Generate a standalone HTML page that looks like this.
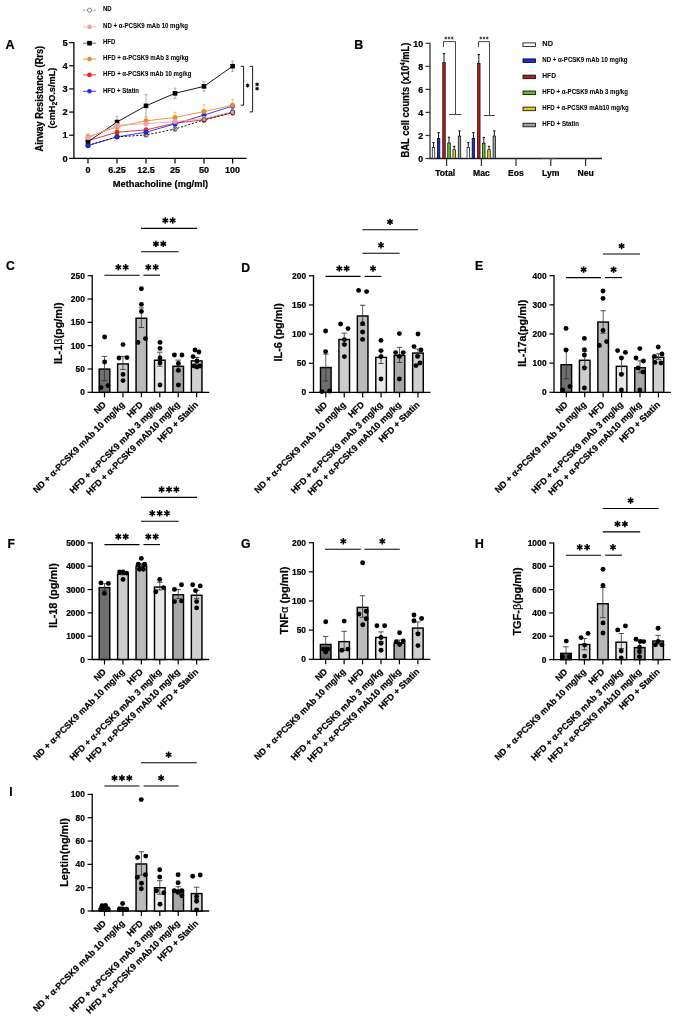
<!DOCTYPE html>
<html><head><meta charset="utf-8"><style>
html,body{margin:0;padding:0;background:#fff;}
svg{display:block;font-family:"Liberation Sans", sans-serif;will-change:transform;} text{stroke:#000;stroke-width:0.22px;}
</style></head><body>
<svg width="685" height="1017" viewBox="0 0 685 1017">
<rect width="685" height="1017" fill="#fff"/>
<text x="5.60" y="48.50" font-size="12.6" font-weight="bold" text-anchor="start" fill="#000">A</text>
<line x1="73.90" y1="42.00" x2="73.90" y2="159.00" stroke="#000" stroke-width="1.3"/>
<line x1="73.30" y1="158.40" x2="246.60" y2="158.40" stroke="#000" stroke-width="1.3"/>
<line x1="69.10" y1="158.40" x2="73.90" y2="158.40" stroke="#000" stroke-width="1.2"/>
<text x="67.60" y="161.60" font-size="9.3" font-weight="bold" text-anchor="end" fill="#000">0</text>
<line x1="69.10" y1="135.24" x2="73.90" y2="135.24" stroke="#000" stroke-width="1.2"/>
<text x="67.60" y="138.44" font-size="9.3" font-weight="bold" text-anchor="end" fill="#000">1</text>
<line x1="69.10" y1="112.08" x2="73.90" y2="112.08" stroke="#000" stroke-width="1.2"/>
<text x="67.60" y="115.28" font-size="9.3" font-weight="bold" text-anchor="end" fill="#000">2</text>
<line x1="69.10" y1="88.92" x2="73.90" y2="88.92" stroke="#000" stroke-width="1.2"/>
<text x="67.60" y="92.12" font-size="9.3" font-weight="bold" text-anchor="end" fill="#000">3</text>
<line x1="69.10" y1="65.76" x2="73.90" y2="65.76" stroke="#000" stroke-width="1.2"/>
<text x="67.60" y="68.96" font-size="9.3" font-weight="bold" text-anchor="end" fill="#000">4</text>
<line x1="69.10" y1="42.60" x2="73.90" y2="42.60" stroke="#000" stroke-width="1.2"/>
<text x="67.60" y="45.80" font-size="9.3" font-weight="bold" text-anchor="end" fill="#000">5</text>
<line x1="88.00" y1="158.40" x2="88.00" y2="163.40" stroke="#000" stroke-width="1.2"/>
<text x="88.00" y="173.40" font-size="9.0" font-weight="bold" text-anchor="middle" fill="#000">0</text>
<line x1="117.00" y1="158.40" x2="117.00" y2="163.40" stroke="#000" stroke-width="1.2"/>
<text x="117.00" y="173.40" font-size="9.0" font-weight="bold" text-anchor="middle" fill="#000">6.25</text>
<line x1="146.00" y1="158.40" x2="146.00" y2="163.40" stroke="#000" stroke-width="1.2"/>
<text x="146.00" y="173.40" font-size="9.0" font-weight="bold" text-anchor="middle" fill="#000">12.5</text>
<line x1="175.00" y1="158.40" x2="175.00" y2="163.40" stroke="#000" stroke-width="1.2"/>
<text x="175.00" y="173.40" font-size="9.0" font-weight="bold" text-anchor="middle" fill="#000">25</text>
<line x1="204.00" y1="158.40" x2="204.00" y2="163.40" stroke="#000" stroke-width="1.2"/>
<text x="204.00" y="173.40" font-size="9.0" font-weight="bold" text-anchor="middle" fill="#000">50</text>
<line x1="232.60" y1="158.40" x2="232.60" y2="163.40" stroke="#000" stroke-width="1.2"/>
<text x="232.60" y="173.40" font-size="9.0" font-weight="bold" text-anchor="middle" fill="#000">100</text>
<text x="160.40" y="187.30" font-size="9.5" font-weight="bold" text-anchor="middle" fill="#000" textLength="95.30" lengthAdjust="spacingAndGlyphs">Methacholine (mg/ml)</text>
<text x="43.40" y="98.70" font-size="10.0" font-weight="bold" text-anchor="middle" fill="#000" transform="rotate(-90 43.40 98.70)" textLength="105.60" lengthAdjust="spacingAndGlyphs">Airway Resistance (Rrs)</text>
<text x="55" y="98.1" font-size="9.6" font-weight="bold" text-anchor="middle" transform="rotate(-90 55 98.1)" textLength="60.8" lengthAdjust="spacingAndGlyphs">(cmH<tspan font-size="7" dy="2">2</tspan><tspan dy="-2">O.s/mL)</tspan></text>
<line x1="88.00" y1="144.04" x2="88.00" y2="146.36" stroke="#888" stroke-width="0.8"/>
<line x1="86.50" y1="144.04" x2="89.50" y2="144.04" stroke="#888" stroke-width="0.8"/>
<line x1="86.50" y1="146.36" x2="89.50" y2="146.36" stroke="#888" stroke-width="0.8"/>
<line x1="117.00" y1="135.70" x2="117.00" y2="138.02" stroke="#888" stroke-width="0.8"/>
<line x1="115.50" y1="135.70" x2="118.50" y2="135.70" stroke="#888" stroke-width="0.8"/>
<line x1="115.50" y1="138.02" x2="118.50" y2="138.02" stroke="#888" stroke-width="0.8"/>
<line x1="146.00" y1="133.62" x2="146.00" y2="136.40" stroke="#888" stroke-width="0.8"/>
<line x1="144.50" y1="133.62" x2="147.50" y2="133.62" stroke="#888" stroke-width="0.8"/>
<line x1="144.50" y1="136.40" x2="147.50" y2="136.40" stroke="#888" stroke-width="0.8"/>
<line x1="175.00" y1="127.13" x2="175.00" y2="130.84" stroke="#888" stroke-width="0.8"/>
<line x1="173.50" y1="127.13" x2="176.50" y2="127.13" stroke="#888" stroke-width="0.8"/>
<line x1="173.50" y1="130.84" x2="176.50" y2="130.84" stroke="#888" stroke-width="0.8"/>
<line x1="204.00" y1="117.64" x2="204.00" y2="122.27" stroke="#888" stroke-width="0.8"/>
<line x1="202.50" y1="117.64" x2="205.50" y2="117.64" stroke="#888" stroke-width="0.8"/>
<line x1="202.50" y1="122.27" x2="205.50" y2="122.27" stroke="#888" stroke-width="0.8"/>
<line x1="232.60" y1="109.53" x2="232.60" y2="115.09" stroke="#888" stroke-width="0.8"/>
<line x1="231.10" y1="109.53" x2="234.10" y2="109.53" stroke="#888" stroke-width="0.8"/>
<line x1="231.10" y1="115.09" x2="234.10" y2="115.09" stroke="#888" stroke-width="0.8"/>
<line x1="88.00" y1="134.31" x2="88.00" y2="141.26" stroke="#f0b8b8" stroke-width="0.8"/>
<line x1="86.50" y1="134.31" x2="89.50" y2="134.31" stroke="#f0b8b8" stroke-width="0.8"/>
<line x1="86.50" y1="141.26" x2="89.50" y2="141.26" stroke="#f0b8b8" stroke-width="0.8"/>
<line x1="117.00" y1="122.50" x2="117.00" y2="128.06" stroke="#f0b8b8" stroke-width="0.8"/>
<line x1="115.50" y1="122.50" x2="118.50" y2="122.50" stroke="#f0b8b8" stroke-width="0.8"/>
<line x1="115.50" y1="128.06" x2="118.50" y2="128.06" stroke="#f0b8b8" stroke-width="0.8"/>
<line x1="146.00" y1="119.03" x2="146.00" y2="128.29" stroke="#f0b8b8" stroke-width="0.8"/>
<line x1="144.50" y1="119.03" x2="147.50" y2="119.03" stroke="#f0b8b8" stroke-width="0.8"/>
<line x1="144.50" y1="128.29" x2="147.50" y2="128.29" stroke="#f0b8b8" stroke-width="0.8"/>
<line x1="175.00" y1="116.94" x2="175.00" y2="126.21" stroke="#f0b8b8" stroke-width="0.8"/>
<line x1="173.50" y1="116.94" x2="176.50" y2="116.94" stroke="#f0b8b8" stroke-width="0.8"/>
<line x1="173.50" y1="126.21" x2="176.50" y2="126.21" stroke="#f0b8b8" stroke-width="0.8"/>
<line x1="204.00" y1="115.79" x2="204.00" y2="121.34" stroke="#f0b8b8" stroke-width="0.8"/>
<line x1="202.50" y1="115.79" x2="205.50" y2="115.79" stroke="#f0b8b8" stroke-width="0.8"/>
<line x1="202.50" y1="121.34" x2="205.50" y2="121.34" stroke="#f0b8b8" stroke-width="0.8"/>
<line x1="232.60" y1="108.61" x2="232.60" y2="115.55" stroke="#f0b8b8" stroke-width="0.8"/>
<line x1="231.10" y1="108.61" x2="234.10" y2="108.61" stroke="#f0b8b8" stroke-width="0.8"/>
<line x1="231.10" y1="115.55" x2="234.10" y2="115.55" stroke="#f0b8b8" stroke-width="0.8"/>
<line x1="88.00" y1="138.95" x2="88.00" y2="144.50" stroke="#999" stroke-width="0.8"/>
<line x1="86.50" y1="138.95" x2="89.50" y2="138.95" stroke="#999" stroke-width="0.8"/>
<line x1="86.50" y1="144.50" x2="89.50" y2="144.50" stroke="#999" stroke-width="0.8"/>
<line x1="117.00" y1="116.25" x2="117.00" y2="127.83" stroke="#999" stroke-width="0.8"/>
<line x1="115.50" y1="116.25" x2="118.50" y2="116.25" stroke="#999" stroke-width="0.8"/>
<line x1="115.50" y1="127.83" x2="118.50" y2="127.83" stroke="#999" stroke-width="0.8"/>
<line x1="146.00" y1="94.71" x2="146.00" y2="116.94" stroke="#999" stroke-width="0.8"/>
<line x1="144.50" y1="94.71" x2="147.50" y2="94.71" stroke="#999" stroke-width="0.8"/>
<line x1="144.50" y1="116.94" x2="147.50" y2="116.94" stroke="#999" stroke-width="0.8"/>
<line x1="175.00" y1="88.23" x2="175.00" y2="98.42" stroke="#999" stroke-width="0.8"/>
<line x1="173.50" y1="88.23" x2="176.50" y2="88.23" stroke="#999" stroke-width="0.8"/>
<line x1="173.50" y1="98.42" x2="176.50" y2="98.42" stroke="#999" stroke-width="0.8"/>
<line x1="204.00" y1="81.74" x2="204.00" y2="91.00" stroke="#999" stroke-width="0.8"/>
<line x1="202.50" y1="81.74" x2="205.50" y2="81.74" stroke="#999" stroke-width="0.8"/>
<line x1="202.50" y1="91.00" x2="205.50" y2="91.00" stroke="#999" stroke-width="0.8"/>
<line x1="232.60" y1="61.13" x2="232.60" y2="71.32" stroke="#999" stroke-width="0.8"/>
<line x1="231.10" y1="61.13" x2="234.10" y2="61.13" stroke="#999" stroke-width="0.8"/>
<line x1="231.10" y1="71.32" x2="234.10" y2="71.32" stroke="#999" stroke-width="0.8"/>
<line x1="88.00" y1="134.08" x2="88.00" y2="139.64" stroke="#f4b27a" stroke-width="0.8"/>
<line x1="86.50" y1="134.08" x2="89.50" y2="134.08" stroke="#f4b27a" stroke-width="0.8"/>
<line x1="86.50" y1="139.64" x2="89.50" y2="139.64" stroke="#f4b27a" stroke-width="0.8"/>
<line x1="117.00" y1="124.59" x2="117.00" y2="129.22" stroke="#f4b27a" stroke-width="0.8"/>
<line x1="115.50" y1="124.59" x2="118.50" y2="124.59" stroke="#f4b27a" stroke-width="0.8"/>
<line x1="115.50" y1="129.22" x2="118.50" y2="129.22" stroke="#f4b27a" stroke-width="0.8"/>
<line x1="146.00" y1="118.10" x2="146.00" y2="123.66" stroke="#f4b27a" stroke-width="0.8"/>
<line x1="144.50" y1="118.10" x2="147.50" y2="118.10" stroke="#f4b27a" stroke-width="0.8"/>
<line x1="144.50" y1="123.66" x2="147.50" y2="123.66" stroke="#f4b27a" stroke-width="0.8"/>
<line x1="175.00" y1="112.31" x2="175.00" y2="122.50" stroke="#f4b27a" stroke-width="0.8"/>
<line x1="173.50" y1="112.31" x2="176.50" y2="112.31" stroke="#f4b27a" stroke-width="0.8"/>
<line x1="173.50" y1="122.50" x2="176.50" y2="122.50" stroke="#f4b27a" stroke-width="0.8"/>
<line x1="204.00" y1="104.67" x2="204.00" y2="118.56" stroke="#f4b27a" stroke-width="0.8"/>
<line x1="202.50" y1="104.67" x2="205.50" y2="104.67" stroke="#f4b27a" stroke-width="0.8"/>
<line x1="202.50" y1="118.56" x2="205.50" y2="118.56" stroke="#f4b27a" stroke-width="0.8"/>
<line x1="232.60" y1="99.34" x2="232.60" y2="110.92" stroke="#f4b27a" stroke-width="0.8"/>
<line x1="231.10" y1="99.34" x2="234.10" y2="99.34" stroke="#f4b27a" stroke-width="0.8"/>
<line x1="231.10" y1="110.92" x2="234.10" y2="110.92" stroke="#f4b27a" stroke-width="0.8"/>
<line x1="88.00" y1="139.41" x2="88.00" y2="142.19" stroke="#ee8a8a" stroke-width="0.8"/>
<line x1="86.50" y1="139.41" x2="89.50" y2="139.41" stroke="#ee8a8a" stroke-width="0.8"/>
<line x1="86.50" y1="142.19" x2="89.50" y2="142.19" stroke="#ee8a8a" stroke-width="0.8"/>
<line x1="117.00" y1="130.38" x2="117.00" y2="134.08" stroke="#ee8a8a" stroke-width="0.8"/>
<line x1="115.50" y1="130.38" x2="118.50" y2="130.38" stroke="#ee8a8a" stroke-width="0.8"/>
<line x1="115.50" y1="134.08" x2="118.50" y2="134.08" stroke="#ee8a8a" stroke-width="0.8"/>
<line x1="146.00" y1="127.60" x2="146.00" y2="132.23" stroke="#ee8a8a" stroke-width="0.8"/>
<line x1="144.50" y1="127.60" x2="147.50" y2="127.60" stroke="#ee8a8a" stroke-width="0.8"/>
<line x1="144.50" y1="132.23" x2="147.50" y2="132.23" stroke="#ee8a8a" stroke-width="0.8"/>
<line x1="175.00" y1="120.88" x2="175.00" y2="125.51" stroke="#ee8a8a" stroke-width="0.8"/>
<line x1="173.50" y1="120.88" x2="176.50" y2="120.88" stroke="#ee8a8a" stroke-width="0.8"/>
<line x1="173.50" y1="125.51" x2="176.50" y2="125.51" stroke="#ee8a8a" stroke-width="0.8"/>
<line x1="204.00" y1="117.41" x2="204.00" y2="122.04" stroke="#ee8a8a" stroke-width="0.8"/>
<line x1="202.50" y1="117.41" x2="205.50" y2="117.41" stroke="#ee8a8a" stroke-width="0.8"/>
<line x1="202.50" y1="122.04" x2="205.50" y2="122.04" stroke="#ee8a8a" stroke-width="0.8"/>
<line x1="232.60" y1="110.00" x2="232.60" y2="115.55" stroke="#ee8a8a" stroke-width="0.8"/>
<line x1="231.10" y1="110.00" x2="234.10" y2="110.00" stroke="#ee8a8a" stroke-width="0.8"/>
<line x1="231.10" y1="115.55" x2="234.10" y2="115.55" stroke="#ee8a8a" stroke-width="0.8"/>
<line x1="88.00" y1="144.74" x2="88.00" y2="146.59" stroke="#8890f0" stroke-width="0.8"/>
<line x1="86.50" y1="144.74" x2="89.50" y2="144.74" stroke="#8890f0" stroke-width="0.8"/>
<line x1="86.50" y1="146.59" x2="89.50" y2="146.59" stroke="#8890f0" stroke-width="0.8"/>
<line x1="117.00" y1="135.70" x2="117.00" y2="138.02" stroke="#8890f0" stroke-width="0.8"/>
<line x1="115.50" y1="135.70" x2="118.50" y2="135.70" stroke="#8890f0" stroke-width="0.8"/>
<line x1="115.50" y1="138.02" x2="118.50" y2="138.02" stroke="#8890f0" stroke-width="0.8"/>
<line x1="146.00" y1="130.84" x2="146.00" y2="133.62" stroke="#8890f0" stroke-width="0.8"/>
<line x1="144.50" y1="130.84" x2="147.50" y2="130.84" stroke="#8890f0" stroke-width="0.8"/>
<line x1="144.50" y1="133.62" x2="147.50" y2="133.62" stroke="#8890f0" stroke-width="0.8"/>
<line x1="175.00" y1="122.04" x2="175.00" y2="125.74" stroke="#8890f0" stroke-width="0.8"/>
<line x1="173.50" y1="122.04" x2="176.50" y2="122.04" stroke="#8890f0" stroke-width="0.8"/>
<line x1="173.50" y1="125.74" x2="176.50" y2="125.74" stroke="#8890f0" stroke-width="0.8"/>
<line x1="204.00" y1="112.77" x2="204.00" y2="117.41" stroke="#8890f0" stroke-width="0.8"/>
<line x1="202.50" y1="112.77" x2="205.50" y2="112.77" stroke="#8890f0" stroke-width="0.8"/>
<line x1="202.50" y1="117.41" x2="205.50" y2="117.41" stroke="#8890f0" stroke-width="0.8"/>
<line x1="232.60" y1="103.74" x2="232.60" y2="108.37" stroke="#8890f0" stroke-width="0.8"/>
<line x1="231.10" y1="103.74" x2="234.10" y2="103.74" stroke="#8890f0" stroke-width="0.8"/>
<line x1="231.10" y1="108.37" x2="234.10" y2="108.37" stroke="#8890f0" stroke-width="0.8"/>
<polyline points="88.00,140.80 117.00,132.23 146.00,129.91 175.00,123.20 204.00,119.72 232.60,112.77" fill="none" stroke="#e3262c" stroke-width="0.9"/>
<polyline points="88.00,141.72 117.00,122.04 146.00,105.83 175.00,93.32 204.00,86.37 232.60,66.22" fill="none" stroke="#000" stroke-width="0.9"/>
<polyline points="88.00,145.66 117.00,136.86 146.00,132.23 175.00,123.89 204.00,115.09 232.60,106.06" fill="none" stroke="#1f2ef0" stroke-width="0.9"/>
<polyline points="88.00,136.86 117.00,126.90 146.00,120.88 175.00,117.41 204.00,111.62 232.60,105.13" fill="none" stroke="#ee8a2c" stroke-width="0.9"/>
<polyline points="88.00,137.79 117.00,125.28 146.00,123.66 175.00,121.58 204.00,118.56 232.60,112.08" fill="none" stroke="#eba3a3" stroke-width="0.9"/>
<polyline points="88.00,145.20 117.00,136.86 146.00,135.01 175.00,128.99 204.00,119.95 232.60,112.31" fill="none" stroke="#000" stroke-width="0.9" stroke-dasharray="2.2 1.6"/>
<circle cx="88.00" cy="140.80" r="2.5" fill="#e3262c"/>
<circle cx="117.00" cy="132.23" r="2.5" fill="#e3262c"/>
<circle cx="146.00" cy="129.91" r="2.5" fill="#e3262c"/>
<circle cx="175.00" cy="123.20" r="2.5" fill="#e3262c"/>
<circle cx="204.00" cy="119.72" r="2.5" fill="#e3262c"/>
<circle cx="232.60" cy="112.77" r="2.5" fill="#e3262c"/>
<rect x="85.70" y="139.42" width="4.6" height="4.6" fill="#000"/>
<rect x="114.70" y="119.74" width="4.6" height="4.6" fill="#000"/>
<rect x="143.70" y="103.53" width="4.6" height="4.6" fill="#000"/>
<rect x="172.70" y="91.02" width="4.6" height="4.6" fill="#000"/>
<rect x="201.70" y="84.07" width="4.6" height="4.6" fill="#000"/>
<rect x="230.30" y="63.92" width="4.6" height="4.6" fill="#000"/>
<circle cx="88.00" cy="145.66" r="2.5" fill="#1f2ef0"/>
<circle cx="117.00" cy="136.86" r="2.5" fill="#1f2ef0"/>
<circle cx="146.00" cy="132.23" r="2.5" fill="#1f2ef0"/>
<circle cx="175.00" cy="123.89" r="2.5" fill="#1f2ef0"/>
<circle cx="204.00" cy="115.09" r="2.5" fill="#1f2ef0"/>
<circle cx="232.60" cy="106.06" r="2.5" fill="#1f2ef0"/>
<circle cx="88.00" cy="136.86" r="2.5" fill="#ee8a2c"/>
<circle cx="117.00" cy="126.90" r="2.5" fill="#ee8a2c"/>
<circle cx="146.00" cy="120.88" r="2.5" fill="#ee8a2c"/>
<circle cx="175.00" cy="117.41" r="2.5" fill="#ee8a2c"/>
<circle cx="204.00" cy="111.62" r="2.5" fill="#ee8a2c"/>
<circle cx="232.60" cy="105.13" r="2.5" fill="#ee8a2c"/>
<circle cx="88.00" cy="137.79" r="2.5" fill="#eba3a3"/>
<circle cx="117.00" cy="125.28" r="2.5" fill="#eba3a3"/>
<circle cx="146.00" cy="123.66" r="2.5" fill="#eba3a3"/>
<circle cx="175.00" cy="121.58" r="2.5" fill="#eba3a3"/>
<circle cx="204.00" cy="118.56" r="2.5" fill="#eba3a3"/>
<circle cx="232.60" cy="112.08" r="2.5" fill="#eba3a3"/>
<circle cx="88.00" cy="145.20" r="2.2" fill="none" stroke="#222" stroke-width="0.7"/>
<circle cx="117.00" cy="136.86" r="2.2" fill="none" stroke="#222" stroke-width="0.7"/>
<circle cx="146.00" cy="135.01" r="2.2" fill="none" stroke="#222" stroke-width="0.7"/>
<circle cx="175.00" cy="128.99" r="2.2" fill="none" stroke="#222" stroke-width="0.7"/>
<circle cx="204.00" cy="119.95" r="2.2" fill="none" stroke="#222" stroke-width="0.7"/>
<circle cx="232.60" cy="112.31" r="2.2" fill="none" stroke="#222" stroke-width="0.7"/>
<polyline points="240.70,66.30 243.60,66.30 243.60,105.20 240.70,105.20" fill="none" stroke="#000" stroke-width="0.9"/>
<polyline points="249.70,66.30 252.60,66.30 252.60,111.90 249.70,111.90" fill="none" stroke="#000" stroke-width="0.9"/>
<line x1="247.60" y1="83.60" x2="247.60" y2="87.40" stroke="#000" stroke-width="1.1"/>
<line x1="245.95" y1="84.55" x2="249.25" y2="86.45" stroke="#000" stroke-width="1.1"/>
<line x1="245.95" y1="86.45" x2="249.25" y2="84.55" stroke="#000" stroke-width="1.1"/>
<line x1="257.10" y1="82.50" x2="257.10" y2="86.30" stroke="#000" stroke-width="1.1"/>
<line x1="255.45" y1="83.45" x2="258.75" y2="85.35" stroke="#000" stroke-width="1.1"/>
<line x1="255.45" y1="85.35" x2="258.75" y2="83.45" stroke="#000" stroke-width="1.1"/>
<line x1="257.10" y1="86.70" x2="257.10" y2="90.50" stroke="#000" stroke-width="1.1"/>
<line x1="255.45" y1="87.65" x2="258.75" y2="89.55" stroke="#000" stroke-width="1.1"/>
<line x1="255.45" y1="89.55" x2="258.75" y2="87.65" stroke="#000" stroke-width="1.1"/>
<line x1="83.1" y1="10.20" x2="96" y2="10.20" stroke="#777" stroke-width="0.9" stroke-dasharray="2 1.5"/>
<circle cx="89.5" cy="10.20" r="2.1" fill="#fff" stroke="#555" stroke-width="0.7"/>
<text x="103.00" y="11.40" font-size="6.3" font-weight="bold" text-anchor="start" fill="#000" textLength="8.70" lengthAdjust="spacingAndGlyphs" style="stroke-width:0.05px">ND</text>
<line x1="83.1" y1="26.90" x2="96" y2="26.90" stroke="#f4b8b8" stroke-width="0.9"/>
<circle cx="89.5" cy="26.90" r="2.3" fill="#eba3a3"/>
<text x="103.00" y="28.10" font-size="6.3" font-weight="bold" text-anchor="start" fill="#000" textLength="85.00" lengthAdjust="spacingAndGlyphs" style="stroke-width:0.05px">ND + &#945;-PCSK9 mAb 10 mg/kg</text>
<line x1="83.1" y1="43.20" x2="96" y2="43.20" stroke="#555" stroke-width="0.9"/>
<rect x="87.20" y="40.90" width="4.6" height="4.6" fill="#000"/>
<text x="103.00" y="44.40" font-size="6.3" font-weight="bold" text-anchor="start" fill="#000" textLength="12.30" lengthAdjust="spacingAndGlyphs" style="stroke-width:0.05px">HFD</text>
<line x1="83.1" y1="59.10" x2="96" y2="59.10" stroke="#ee8a2c" stroke-width="0.9"/>
<circle cx="89.5" cy="59.10" r="2.3" fill="#ee8a2c"/>
<text x="103.00" y="60.30" font-size="6.3" font-weight="bold" text-anchor="start" fill="#000" textLength="85.60" lengthAdjust="spacingAndGlyphs" style="stroke-width:0.05px">HFD + &#945;-PCSK9 mAb 3 mg/kg</text>
<line x1="83.1" y1="74.90" x2="96" y2="74.90" stroke="#e3262c" stroke-width="0.9"/>
<circle cx="89.5" cy="74.90" r="2.3" fill="#e3262c"/>
<text x="103.00" y="76.10" font-size="6.3" font-weight="bold" text-anchor="start" fill="#000" textLength="88.40" lengthAdjust="spacingAndGlyphs" style="stroke-width:0.05px">HFD + &#945;-PCSK9 mAb 10 mg/kg</text>
<line x1="83.1" y1="91.30" x2="96" y2="91.30" stroke="#1f2ef0" stroke-width="0.9"/>
<circle cx="89.5" cy="91.30" r="2.3" fill="#1f2ef0"/>
<text x="103.00" y="92.50" font-size="6.3" font-weight="bold" text-anchor="start" fill="#000" textLength="36.00" lengthAdjust="spacingAndGlyphs" style="stroke-width:0.05px">HFD + Statin</text>
<text x="354.30" y="48.50" font-size="12.4" font-weight="bold" text-anchor="start" fill="#000">B</text>
<line x1="430.00" y1="42.70" x2="430.00" y2="159.10" stroke="#333" stroke-width="1.3"/>
<line x1="429.40" y1="158.50" x2="602.00" y2="158.50" stroke="#222" stroke-width="1.3"/>
<line x1="425.50" y1="158.50" x2="430.00" y2="158.50" stroke="#333" stroke-width="1.2"/>
<text x="423.20" y="161.70" font-size="8.9" font-weight="bold" text-anchor="end" fill="#000">0</text>
<line x1="425.50" y1="135.46" x2="430.00" y2="135.46" stroke="#333" stroke-width="1.2"/>
<text x="423.20" y="138.66" font-size="8.9" font-weight="bold" text-anchor="end" fill="#000">2</text>
<line x1="425.50" y1="112.42" x2="430.00" y2="112.42" stroke="#333" stroke-width="1.2"/>
<text x="423.20" y="115.62" font-size="8.9" font-weight="bold" text-anchor="end" fill="#000">4</text>
<line x1="425.50" y1="89.38" x2="430.00" y2="89.38" stroke="#333" stroke-width="1.2"/>
<text x="423.20" y="92.58" font-size="8.9" font-weight="bold" text-anchor="end" fill="#000">6</text>
<line x1="425.50" y1="66.34" x2="430.00" y2="66.34" stroke="#333" stroke-width="1.2"/>
<text x="423.20" y="69.54" font-size="8.9" font-weight="bold" text-anchor="end" fill="#000">8</text>
<line x1="425.50" y1="43.30" x2="430.00" y2="43.30" stroke="#333" stroke-width="1.2"/>
<text x="423.20" y="46.50" font-size="8.9" font-weight="bold" text-anchor="end" fill="#000">10</text>
<line x1="446.60" y1="158.50" x2="446.60" y2="166.00" stroke="#333" stroke-width="1.2"/>
<text x="445.20" y="176.20" font-size="8.6" font-weight="bold" text-anchor="middle" fill="#000">Total</text>
<line x1="481.40" y1="158.50" x2="481.40" y2="166.00" stroke="#333" stroke-width="1.2"/>
<text x="481.40" y="176.20" font-size="8.6" font-weight="bold" text-anchor="middle" fill="#000">Mac</text>
<line x1="516.00" y1="158.50" x2="516.00" y2="166.00" stroke="#333" stroke-width="1.2"/>
<text x="516.00" y="176.20" font-size="8.6" font-weight="bold" text-anchor="middle" fill="#000">Eos</text>
<line x1="550.80" y1="158.50" x2="550.80" y2="166.00" stroke="#333" stroke-width="1.2"/>
<text x="550.80" y="176.20" font-size="8.6" font-weight="bold" text-anchor="middle" fill="#000">Lym</text>
<line x1="585.60" y1="158.50" x2="585.60" y2="166.00" stroke="#333" stroke-width="1.2"/>
<text x="585.60" y="176.20" font-size="8.6" font-weight="bold" text-anchor="middle" fill="#000">Neu</text>
<text x="409" y="100" font-size="10.8" font-weight="bold" text-anchor="middle" transform="rotate(-90 409 100)" textLength="114.8" lengthAdjust="spacingAndGlyphs">BAL cell counts (x10<tspan font-size="6.5" dy="-4">4</tspan><tspan dy="4">/mL)</tspan></text>
<line x1="433.50" y1="142.60" x2="433.50" y2="147.44" stroke="#111" stroke-width="1.0"/>
<line x1="432.30" y1="142.60" x2="434.70" y2="142.60" stroke="#111" stroke-width="1.0"/>
<rect x="432.25" y="147.44" width="2.5" height="11.06" fill="#ffffff" stroke="#000" stroke-width="0.7"/>
<line x1="438.60" y1="132.58" x2="438.60" y2="138.57" stroke="#111" stroke-width="1.0"/>
<line x1="437.40" y1="132.58" x2="439.80" y2="132.58" stroke="#111" stroke-width="1.0"/>
<rect x="437.35" y="138.57" width="2.5" height="19.93" fill="#1a2fd6" stroke="#000" stroke-width="0.7"/>
<line x1="444.00" y1="53.67" x2="444.00" y2="62.54" stroke="#111" stroke-width="1.0"/>
<line x1="442.80" y1="53.67" x2="445.20" y2="53.67" stroke="#111" stroke-width="1.0"/>
<rect x="442.75" y="62.54" width="2.5" height="95.96" fill="#b3201f" stroke="#000" stroke-width="0.7"/>
<line x1="449.00" y1="137.19" x2="449.00" y2="142.95" stroke="#111" stroke-width="1.0"/>
<line x1="447.80" y1="137.19" x2="450.20" y2="137.19" stroke="#111" stroke-width="1.0"/>
<rect x="447.75" y="142.95" width="2.5" height="15.55" fill="#5fc02a" stroke="#000" stroke-width="0.7"/>
<line x1="454.20" y1="146.29" x2="454.20" y2="149.74" stroke="#111" stroke-width="1.0"/>
<line x1="453.00" y1="146.29" x2="455.40" y2="146.29" stroke="#111" stroke-width="1.0"/>
<rect x="452.95" y="149.74" width="2.5" height="8.76" fill="#dccf1e" stroke="#000" stroke-width="0.7"/>
<line x1="459.50" y1="130.85" x2="459.50" y2="136.04" stroke="#111" stroke-width="1.0"/>
<line x1="458.30" y1="130.85" x2="460.70" y2="130.85" stroke="#111" stroke-width="1.0"/>
<rect x="458.25" y="136.04" width="2.5" height="22.46" fill="#a0a0a0" stroke="#000" stroke-width="0.7"/>
<line x1="468.30" y1="142.60" x2="468.30" y2="147.44" stroke="#111" stroke-width="1.0"/>
<line x1="467.10" y1="142.60" x2="469.50" y2="142.60" stroke="#111" stroke-width="1.0"/>
<rect x="467.05" y="147.44" width="2.5" height="11.06" fill="#ffffff" stroke="#000" stroke-width="0.7"/>
<line x1="473.40" y1="132.58" x2="473.40" y2="138.57" stroke="#111" stroke-width="1.0"/>
<line x1="472.20" y1="132.58" x2="474.60" y2="132.58" stroke="#111" stroke-width="1.0"/>
<rect x="472.15" y="138.57" width="2.5" height="19.93" fill="#1a2fd6" stroke="#000" stroke-width="0.7"/>
<line x1="478.80" y1="54.59" x2="478.80" y2="63.46" stroke="#111" stroke-width="1.0"/>
<line x1="477.60" y1="54.59" x2="480.00" y2="54.59" stroke="#111" stroke-width="1.0"/>
<rect x="477.55" y="63.46" width="2.5" height="95.04" fill="#b3201f" stroke="#000" stroke-width="0.7"/>
<line x1="483.80" y1="137.42" x2="483.80" y2="143.18" stroke="#111" stroke-width="1.0"/>
<line x1="482.60" y1="137.42" x2="485.00" y2="137.42" stroke="#111" stroke-width="1.0"/>
<rect x="482.55" y="143.18" width="2.5" height="15.32" fill="#5fc02a" stroke="#000" stroke-width="0.7"/>
<line x1="489.00" y1="146.29" x2="489.00" y2="149.74" stroke="#111" stroke-width="1.0"/>
<line x1="487.80" y1="146.29" x2="490.20" y2="146.29" stroke="#111" stroke-width="1.0"/>
<rect x="487.75" y="149.74" width="2.5" height="8.76" fill="#dccf1e" stroke="#000" stroke-width="0.7"/>
<line x1="494.30" y1="130.85" x2="494.30" y2="136.04" stroke="#111" stroke-width="1.0"/>
<line x1="493.10" y1="130.85" x2="495.50" y2="130.85" stroke="#111" stroke-width="1.0"/>
<rect x="493.05" y="136.04" width="2.5" height="22.46" fill="#a0a0a0" stroke="#000" stroke-width="0.7"/>
<line x1="542" y1="158" x2="556" y2="158" stroke="#999" stroke-width="0.6"/>
<polyline points="443.50,47 443.50,41.6 455.50,41.6 455.50,114.50" fill="none" stroke="#333" stroke-width="0.9"/>
<line x1="449.00" y1="114.50" x2="461.40" y2="114.50" stroke="#333" stroke-width="0.9"/>
<line x1="445.80" y1="36.55" x2="445.80" y2="39.45" stroke="#000" stroke-width="0.6"/>
<line x1="444.54" y1="37.27" x2="447.06" y2="38.73" stroke="#000" stroke-width="0.6"/>
<line x1="444.54" y1="38.73" x2="447.06" y2="37.27" stroke="#000" stroke-width="0.6"/>
<line x1="449.00" y1="36.55" x2="449.00" y2="39.45" stroke="#000" stroke-width="0.6"/>
<line x1="447.74" y1="37.27" x2="450.26" y2="38.73" stroke="#000" stroke-width="0.6"/>
<line x1="447.74" y1="38.73" x2="450.26" y2="37.27" stroke="#000" stroke-width="0.6"/>
<line x1="452.20" y1="36.55" x2="452.20" y2="39.45" stroke="#000" stroke-width="0.6"/>
<line x1="450.94" y1="37.27" x2="453.46" y2="38.73" stroke="#000" stroke-width="0.6"/>
<line x1="450.94" y1="38.73" x2="453.46" y2="37.27" stroke="#000" stroke-width="0.6"/>
<polyline points="478.50,47 478.50,41.6 489.50,41.6 489.50,115.50" fill="none" stroke="#333" stroke-width="0.9"/>
<line x1="484.00" y1="115.50" x2="494.80" y2="115.50" stroke="#333" stroke-width="0.9"/>
<line x1="480.80" y1="36.55" x2="480.80" y2="39.45" stroke="#000" stroke-width="0.6"/>
<line x1="479.54" y1="37.27" x2="482.06" y2="38.73" stroke="#000" stroke-width="0.6"/>
<line x1="479.54" y1="38.73" x2="482.06" y2="37.27" stroke="#000" stroke-width="0.6"/>
<line x1="484.00" y1="36.55" x2="484.00" y2="39.45" stroke="#000" stroke-width="0.6"/>
<line x1="482.74" y1="37.27" x2="485.26" y2="38.73" stroke="#000" stroke-width="0.6"/>
<line x1="482.74" y1="38.73" x2="485.26" y2="37.27" stroke="#000" stroke-width="0.6"/>
<line x1="487.20" y1="36.55" x2="487.20" y2="39.45" stroke="#000" stroke-width="0.6"/>
<line x1="485.94" y1="37.27" x2="488.46" y2="38.73" stroke="#000" stroke-width="0.6"/>
<line x1="485.94" y1="38.73" x2="488.46" y2="37.27" stroke="#000" stroke-width="0.6"/>
<rect x="523" y="42.90" width="12.4" height="3.6" fill="#ffffff" stroke="#000" stroke-width="0.8"/>
<text x="542.30" y="45.50" font-size="6.3" font-weight="bold" text-anchor="start" fill="#000" textLength="10.70" lengthAdjust="spacingAndGlyphs" style="stroke-width:0.05px">ND</text>
<rect x="523" y="58.90" width="12.4" height="3.6" fill="#1a2fd6" stroke="#000" stroke-width="0.8"/>
<text x="542.30" y="61.50" font-size="6.3" font-weight="bold" text-anchor="start" fill="#000" textLength="85.20" lengthAdjust="spacingAndGlyphs" style="stroke-width:0.05px">ND + &#945;-PCSK9 mAb 10 mg/kg</text>
<rect x="523" y="75.10" width="12.4" height="3.6" fill="#b3201f" stroke="#000" stroke-width="0.8"/>
<text x="542.30" y="77.70" font-size="6.3" font-weight="bold" text-anchor="start" fill="#000" textLength="13.70" lengthAdjust="spacingAndGlyphs" style="stroke-width:0.05px">HFD</text>
<rect x="523" y="91.00" width="12.4" height="3.6" fill="#5fc02a" stroke="#000" stroke-width="0.8"/>
<text x="542.30" y="93.60" font-size="6.3" font-weight="bold" text-anchor="start" fill="#000" textLength="85.70" lengthAdjust="spacingAndGlyphs" style="stroke-width:0.05px">HFD + &#945;-PCSK9 mAb 3 mg/kg</text>
<rect x="523" y="107.10" width="12.4" height="3.6" fill="#dccf1e" stroke="#000" stroke-width="0.8"/>
<text x="542.30" y="109.70" font-size="6.3" font-weight="bold" text-anchor="start" fill="#000" textLength="86.50" lengthAdjust="spacingAndGlyphs" style="stroke-width:0.05px">HFD + &#945;-PCSK9 mAb10 mg/kg</text>
<rect x="523" y="123.20" width="12.4" height="3.6" fill="#a0a0a0" stroke="#000" stroke-width="0.8"/>
<text x="542.30" y="125.80" font-size="6.3" font-weight="bold" text-anchor="start" fill="#000" textLength="36.70" lengthAdjust="spacingAndGlyphs" style="stroke-width:0.05px">HFD + Statin</text>
<text x="6.00" y="270.00" font-size="12.2" font-weight="bold" text-anchor="start" fill="#000">C</text>
<line x1="92.20" y1="275.10" x2="92.20" y2="392.90" stroke="#000" stroke-width="1.3"/>
<line x1="91.60" y1="392.30" x2="209.20" y2="392.30" stroke="#000" stroke-width="1.3"/>
<line x1="87.60" y1="392.30" x2="92.20" y2="392.30" stroke="#000" stroke-width="1.2"/>
<text x="84.80" y="395.30" font-size="8.4" font-weight="bold" text-anchor="end" fill="#000">0</text>
<line x1="87.60" y1="368.98" x2="92.20" y2="368.98" stroke="#000" stroke-width="1.2"/>
<text x="84.80" y="371.98" font-size="8.4" font-weight="bold" text-anchor="end" fill="#000">50</text>
<line x1="87.60" y1="345.66" x2="92.20" y2="345.66" stroke="#000" stroke-width="1.2"/>
<text x="84.80" y="348.66" font-size="8.4" font-weight="bold" text-anchor="end" fill="#000">100</text>
<line x1="87.60" y1="322.34" x2="92.20" y2="322.34" stroke="#000" stroke-width="1.2"/>
<text x="84.80" y="325.34" font-size="8.4" font-weight="bold" text-anchor="end" fill="#000">150</text>
<line x1="87.60" y1="299.02" x2="92.20" y2="299.02" stroke="#000" stroke-width="1.2"/>
<text x="84.80" y="302.02" font-size="8.4" font-weight="bold" text-anchor="end" fill="#000">200</text>
<line x1="87.60" y1="275.70" x2="92.20" y2="275.70" stroke="#000" stroke-width="1.2"/>
<text x="84.80" y="278.70" font-size="8.4" font-weight="bold" text-anchor="end" fill="#000">250</text>
<line x1="104.50" y1="392.30" x2="104.50" y2="397.30" stroke="#000" stroke-width="1.2"/>
<line x1="122.93" y1="392.30" x2="122.93" y2="397.30" stroke="#000" stroke-width="1.2"/>
<line x1="141.36" y1="392.30" x2="141.36" y2="397.30" stroke="#000" stroke-width="1.2"/>
<line x1="159.79" y1="392.30" x2="159.79" y2="397.30" stroke="#000" stroke-width="1.2"/>
<line x1="178.22" y1="392.30" x2="178.22" y2="397.30" stroke="#000" stroke-width="1.2"/>
<line x1="196.65" y1="392.30" x2="196.65" y2="397.30" stroke="#000" stroke-width="1.2"/>
<rect x="99.20" y="369.06" width="10.6" height="23.24" fill="#6f6f6f" stroke="#000" stroke-width="1.45"/>
<rect x="117.63" y="363.93" width="10.6" height="28.37" fill="#cdcdcd" stroke="#000" stroke-width="1.45"/>
<rect x="136.06" y="318.23" width="10.6" height="74.07" fill="#bbbbbb" stroke="#000" stroke-width="1.45"/>
<rect x="154.49" y="360.20" width="10.6" height="32.10" fill="#e8e8e8" stroke="#000" stroke-width="1.45"/>
<rect x="172.92" y="366.27" width="10.6" height="26.03" fill="#a8a8a8" stroke="#000" stroke-width="1.45"/>
<rect x="191.35" y="360.85" width="10.6" height="31.45" fill="#d0d0d0" stroke="#000" stroke-width="1.45"/>
<line x1="104.50" y1="356.39" x2="104.50" y2="380.64" stroke="#333" stroke-width="0.8"/>
<line x1="101.80" y1="356.39" x2="107.20" y2="356.39" stroke="#333" stroke-width="0.85"/>
<line x1="101.80" y1="380.64" x2="107.20" y2="380.64" stroke="#333" stroke-width="0.85"/>
<line x1="122.93" y1="356.39" x2="122.93" y2="369.45" stroke="#333" stroke-width="0.8"/>
<line x1="120.23" y1="356.39" x2="125.63" y2="356.39" stroke="#333" stroke-width="0.85"/>
<line x1="120.23" y1="369.45" x2="125.63" y2="369.45" stroke="#333" stroke-width="0.85"/>
<line x1="141.36" y1="307.88" x2="141.36" y2="327.47" stroke="#333" stroke-width="0.8"/>
<line x1="138.66" y1="307.88" x2="144.06" y2="307.88" stroke="#333" stroke-width="0.85"/>
<line x1="138.66" y1="327.47" x2="144.06" y2="327.47" stroke="#333" stroke-width="0.85"/>
<line x1="159.79" y1="352.19" x2="159.79" y2="366.18" stroke="#333" stroke-width="0.8"/>
<line x1="157.09" y1="352.19" x2="162.49" y2="352.19" stroke="#333" stroke-width="0.85"/>
<line x1="157.09" y1="366.18" x2="162.49" y2="366.18" stroke="#333" stroke-width="0.85"/>
<line x1="178.22" y1="360.12" x2="178.22" y2="370.85" stroke="#333" stroke-width="0.8"/>
<line x1="175.52" y1="360.12" x2="180.92" y2="360.12" stroke="#333" stroke-width="0.85"/>
<line x1="175.52" y1="370.85" x2="180.92" y2="370.85" stroke="#333" stroke-width="0.85"/>
<line x1="196.65" y1="357.51" x2="196.65" y2="364.04" stroke="#333" stroke-width="0.8"/>
<line x1="193.95" y1="357.51" x2="199.35" y2="357.51" stroke="#333" stroke-width="0.85"/>
<line x1="193.95" y1="364.04" x2="199.35" y2="364.04" stroke="#333" stroke-width="0.85"/>
<circle cx="104.60" cy="337.00" r="2.45" fill="#000"/>
<circle cx="104.60" cy="362.00" r="2.45" fill="#000"/>
<circle cx="101.00" cy="387.60" r="2.45" fill="#000"/>
<circle cx="108.00" cy="385.60" r="2.45" fill="#000"/>
<circle cx="123.00" cy="344.60" r="2.45" fill="#000"/>
<circle cx="119.00" cy="358.00" r="2.45" fill="#000"/>
<circle cx="127.00" cy="357.60" r="2.45" fill="#000"/>
<circle cx="123.00" cy="374.40" r="2.45" fill="#000"/>
<circle cx="123.00" cy="380.60" r="2.45" fill="#000"/>
<circle cx="141.40" cy="288.80" r="2.45" fill="#000"/>
<circle cx="141.40" cy="304.40" r="2.45" fill="#000"/>
<circle cx="141.40" cy="311.40" r="2.45" fill="#000"/>
<circle cx="138.00" cy="342.40" r="2.45" fill="#000"/>
<circle cx="145.40" cy="338.60" r="2.45" fill="#000"/>
<circle cx="160.00" cy="342.40" r="2.45" fill="#000"/>
<circle cx="160.00" cy="348.40" r="2.45" fill="#000"/>
<circle cx="160.00" cy="358.00" r="2.45" fill="#000"/>
<circle cx="160.00" cy="363.00" r="2.45" fill="#000"/>
<circle cx="160.00" cy="385.00" r="2.45" fill="#000"/>
<circle cx="174.40" cy="355.00" r="2.45" fill="#000"/>
<circle cx="182.00" cy="355.00" r="2.45" fill="#000"/>
<circle cx="178.40" cy="363.40" r="2.45" fill="#000"/>
<circle cx="178.40" cy="370.40" r="2.45" fill="#000"/>
<circle cx="178.40" cy="385.00" r="2.45" fill="#000"/>
<circle cx="195.00" cy="350.00" r="2.45" fill="#000"/>
<circle cx="199.00" cy="352.00" r="2.45" fill="#000"/>
<circle cx="193.00" cy="356.60" r="2.45" fill="#000"/>
<circle cx="197.00" cy="361.00" r="2.45" fill="#000"/>
<circle cx="194.00" cy="366.00" r="2.45" fill="#000"/>
<circle cx="200.00" cy="366.00" r="2.45" fill="#000"/>
<circle cx="197.00" cy="367.00" r="2.45" fill="#000"/>
<line x1="104.40" y1="275.20" x2="139.60" y2="275.20" stroke="#000" stroke-width="1.1"/>
<line x1="118.30" y1="264.05" x2="118.30" y2="270.45" stroke="#000" stroke-width="1.6"/>
<line x1="115.53" y1="265.65" x2="121.07" y2="268.85" stroke="#000" stroke-width="1.6"/>
<line x1="115.53" y1="268.85" x2="121.07" y2="265.65" stroke="#000" stroke-width="1.6"/>
<line x1="125.70" y1="264.05" x2="125.70" y2="270.45" stroke="#000" stroke-width="1.6"/>
<line x1="122.93" y1="265.65" x2="128.47" y2="268.85" stroke="#000" stroke-width="1.6"/>
<line x1="122.93" y1="268.85" x2="128.47" y2="265.65" stroke="#000" stroke-width="1.6"/>
<line x1="143.40" y1="275.20" x2="160.00" y2="275.20" stroke="#000" stroke-width="1.1"/>
<line x1="148.30" y1="264.05" x2="148.30" y2="270.45" stroke="#000" stroke-width="1.6"/>
<line x1="145.53" y1="265.65" x2="151.07" y2="268.85" stroke="#000" stroke-width="1.6"/>
<line x1="145.53" y1="268.85" x2="151.07" y2="265.65" stroke="#000" stroke-width="1.6"/>
<line x1="155.70" y1="264.05" x2="155.70" y2="270.45" stroke="#000" stroke-width="1.6"/>
<line x1="152.93" y1="265.65" x2="158.47" y2="268.85" stroke="#000" stroke-width="1.6"/>
<line x1="152.93" y1="268.85" x2="158.47" y2="265.65" stroke="#000" stroke-width="1.6"/>
<line x1="141.00" y1="251.80" x2="178.60" y2="251.80" stroke="#000" stroke-width="1.1"/>
<line x1="155.90" y1="240.65" x2="155.90" y2="247.05" stroke="#000" stroke-width="1.6"/>
<line x1="153.13" y1="242.25" x2="158.67" y2="245.45" stroke="#000" stroke-width="1.6"/>
<line x1="153.13" y1="245.45" x2="158.67" y2="242.25" stroke="#000" stroke-width="1.6"/>
<line x1="163.30" y1="240.65" x2="163.30" y2="247.05" stroke="#000" stroke-width="1.6"/>
<line x1="160.53" y1="242.25" x2="166.07" y2="245.45" stroke="#000" stroke-width="1.6"/>
<line x1="160.53" y1="245.45" x2="166.07" y2="242.25" stroke="#000" stroke-width="1.6"/>
<line x1="141.00" y1="228.40" x2="197.00" y2="228.40" stroke="#000" stroke-width="1.1"/>
<line x1="165.30" y1="217.25" x2="165.30" y2="223.65" stroke="#000" stroke-width="1.6"/>
<line x1="162.53" y1="218.85" x2="168.07" y2="222.05" stroke="#000" stroke-width="1.6"/>
<line x1="162.53" y1="222.05" x2="168.07" y2="218.85" stroke="#000" stroke-width="1.6"/>
<line x1="172.70" y1="217.25" x2="172.70" y2="223.65" stroke="#000" stroke-width="1.6"/>
<line x1="169.93" y1="218.85" x2="175.47" y2="222.05" stroke="#000" stroke-width="1.6"/>
<line x1="169.93" y1="222.05" x2="175.47" y2="218.85" stroke="#000" stroke-width="1.6"/>
<text x="106.60" y="405.20" font-size="8.95" font-weight="bold" text-anchor="end" fill="#000" transform="rotate(-45 106.60 405.20)">ND</text>
<text x="125.03" y="405.20" font-size="8.95" font-weight="bold" text-anchor="end" fill="#000" transform="rotate(-45 125.03 405.20)">ND + &#945;-PCSK9 mAb 10 mg/kg</text>
<text x="143.46" y="405.20" font-size="8.95" font-weight="bold" text-anchor="end" fill="#000" transform="rotate(-45 143.46 405.20)">HFD</text>
<text x="161.89" y="405.20" font-size="8.95" font-weight="bold" text-anchor="end" fill="#000" transform="rotate(-45 161.89 405.20)">HFD + &#945;-PCSK9 mAb 3 mg/kg</text>
<text x="180.32" y="405.20" font-size="8.95" font-weight="bold" text-anchor="end" fill="#000" transform="rotate(-45 180.32 405.20)">HFD + &#945;-PCSK9 mAb10 mg/kg</text>
<text x="198.75" y="405.20" font-size="8.95" font-weight="bold" text-anchor="end" fill="#000" transform="rotate(-45 198.75 405.20)">HFD + Statin</text>
<text x="62.40" y="333.20" font-size="10.9" font-weight="bold" text-anchor="middle" fill="#000" transform="rotate(-90 62.40 333.20)" textLength="61.60" lengthAdjust="spacingAndGlyphs">IL-1<tspan font-weight="normal">&#946;</tspan>(pg/ml)</text>
<text x="241.20" y="272.40" font-size="12.2" font-weight="bold" text-anchor="start" fill="#000">D</text>
<line x1="313.50" y1="275.20" x2="313.50" y2="393.00" stroke="#000" stroke-width="1.3"/>
<line x1="312.90" y1="392.40" x2="430.50" y2="392.40" stroke="#000" stroke-width="1.3"/>
<line x1="308.90" y1="392.40" x2="313.50" y2="392.40" stroke="#000" stroke-width="1.2"/>
<text x="306.10" y="395.40" font-size="8.4" font-weight="bold" text-anchor="end" fill="#000">0</text>
<line x1="308.90" y1="363.25" x2="313.50" y2="363.25" stroke="#000" stroke-width="1.2"/>
<text x="306.10" y="366.25" font-size="8.4" font-weight="bold" text-anchor="end" fill="#000">50</text>
<line x1="308.90" y1="334.10" x2="313.50" y2="334.10" stroke="#000" stroke-width="1.2"/>
<text x="306.10" y="337.10" font-size="8.4" font-weight="bold" text-anchor="end" fill="#000">100</text>
<line x1="308.90" y1="304.95" x2="313.50" y2="304.95" stroke="#000" stroke-width="1.2"/>
<text x="306.10" y="307.95" font-size="8.4" font-weight="bold" text-anchor="end" fill="#000">150</text>
<line x1="308.90" y1="275.80" x2="313.50" y2="275.80" stroke="#000" stroke-width="1.2"/>
<text x="306.10" y="278.80" font-size="8.4" font-weight="bold" text-anchor="end" fill="#000">200</text>
<line x1="325.80" y1="392.40" x2="325.80" y2="397.40" stroke="#000" stroke-width="1.2"/>
<line x1="344.23" y1="392.40" x2="344.23" y2="397.40" stroke="#000" stroke-width="1.2"/>
<line x1="362.66" y1="392.40" x2="362.66" y2="397.40" stroke="#000" stroke-width="1.2"/>
<line x1="381.09" y1="392.40" x2="381.09" y2="397.40" stroke="#000" stroke-width="1.2"/>
<line x1="399.52" y1="392.40" x2="399.52" y2="397.40" stroke="#000" stroke-width="1.2"/>
<line x1="417.95" y1="392.40" x2="417.95" y2="397.40" stroke="#000" stroke-width="1.2"/>
<rect x="320.50" y="367.53" width="10.6" height="24.87" fill="#6f6f6f" stroke="#000" stroke-width="1.45"/>
<rect x="338.93" y="339.49" width="10.6" height="52.91" fill="#cdcdcd" stroke="#000" stroke-width="1.45"/>
<rect x="357.36" y="315.99" width="10.6" height="76.41" fill="#bbbbbb" stroke="#000" stroke-width="1.45"/>
<rect x="375.79" y="357.39" width="10.6" height="35.01" fill="#e8e8e8" stroke="#000" stroke-width="1.45"/>
<rect x="394.22" y="355.46" width="10.6" height="36.94" fill="#a8a8a8" stroke="#000" stroke-width="1.45"/>
<rect x="412.65" y="353.07" width="10.6" height="39.33" fill="#d0d0d0" stroke="#000" stroke-width="1.45"/>
<line x1="325.80" y1="354.16" x2="325.80" y2="380.97" stroke="#333" stroke-width="0.8"/>
<line x1="323.10" y1="354.16" x2="328.50" y2="354.16" stroke="#333" stroke-width="0.85"/>
<line x1="323.10" y1="380.97" x2="328.50" y2="380.97" stroke="#333" stroke-width="0.85"/>
<line x1="344.23" y1="333.11" x2="344.23" y2="343.60" stroke="#333" stroke-width="0.8"/>
<line x1="341.53" y1="333.11" x2="346.93" y2="333.11" stroke="#333" stroke-width="0.85"/>
<line x1="341.53" y1="343.60" x2="346.93" y2="343.60" stroke="#333" stroke-width="0.85"/>
<line x1="362.66" y1="305.24" x2="362.66" y2="325.35" stroke="#333" stroke-width="0.8"/>
<line x1="359.96" y1="305.24" x2="365.36" y2="305.24" stroke="#333" stroke-width="0.85"/>
<line x1="359.96" y1="325.35" x2="365.36" y2="325.35" stroke="#333" stroke-width="0.85"/>
<line x1="381.09" y1="351.01" x2="381.09" y2="363.54" stroke="#333" stroke-width="0.8"/>
<line x1="378.39" y1="351.01" x2="383.79" y2="351.01" stroke="#333" stroke-width="0.85"/>
<line x1="378.39" y1="363.54" x2="383.79" y2="363.54" stroke="#333" stroke-width="0.85"/>
<line x1="399.52" y1="347.33" x2="399.52" y2="362.49" stroke="#333" stroke-width="0.8"/>
<line x1="396.82" y1="347.33" x2="402.22" y2="347.33" stroke="#333" stroke-width="0.85"/>
<line x1="396.82" y1="362.49" x2="402.22" y2="362.49" stroke="#333" stroke-width="0.85"/>
<line x1="417.95" y1="349.02" x2="417.95" y2="355.44" stroke="#333" stroke-width="0.8"/>
<line x1="415.25" y1="349.02" x2="420.65" y2="349.02" stroke="#333" stroke-width="0.85"/>
<line x1="415.25" y1="355.44" x2="420.65" y2="355.44" stroke="#333" stroke-width="0.85"/>
<circle cx="325.60" cy="331.00" r="2.45" fill="#000"/>
<circle cx="325.60" cy="351.60" r="2.45" fill="#000"/>
<circle cx="322.00" cy="391.60" r="2.45" fill="#000"/>
<circle cx="329.60" cy="391.00" r="2.45" fill="#000"/>
<circle cx="340.60" cy="324.00" r="2.45" fill="#000"/>
<circle cx="348.00" cy="328.60" r="2.45" fill="#000"/>
<circle cx="344.40" cy="339.60" r="2.45" fill="#000"/>
<circle cx="344.40" cy="344.60" r="2.45" fill="#000"/>
<circle cx="344.40" cy="356.60" r="2.45" fill="#000"/>
<circle cx="358.60" cy="290.40" r="2.45" fill="#000"/>
<circle cx="366.60" cy="291.60" r="2.45" fill="#000"/>
<circle cx="362.60" cy="323.60" r="2.45" fill="#000"/>
<circle cx="362.60" cy="332.00" r="2.45" fill="#000"/>
<circle cx="362.60" cy="339.40" r="2.45" fill="#000"/>
<circle cx="381.00" cy="340.40" r="2.45" fill="#000"/>
<circle cx="381.00" cy="350.60" r="2.45" fill="#000"/>
<circle cx="381.00" cy="356.60" r="2.45" fill="#000"/>
<circle cx="381.00" cy="379.00" r="2.45" fill="#000"/>
<circle cx="399.40" cy="333.60" r="2.45" fill="#000"/>
<circle cx="395.60" cy="352.60" r="2.45" fill="#000"/>
<circle cx="403.20" cy="352.60" r="2.45" fill="#000"/>
<circle cx="399.40" cy="356.40" r="2.45" fill="#000"/>
<circle cx="399.40" cy="379.00" r="2.45" fill="#000"/>
<circle cx="418.00" cy="334.00" r="2.45" fill="#000"/>
<circle cx="414.00" cy="346.60" r="2.45" fill="#000"/>
<circle cx="421.00" cy="350.00" r="2.45" fill="#000"/>
<circle cx="417.60" cy="356.40" r="2.45" fill="#000"/>
<circle cx="416.00" cy="365.60" r="2.45" fill="#000"/>
<circle cx="420.00" cy="363.00" r="2.45" fill="#000"/>
<line x1="325.40" y1="276.40" x2="360.60" y2="276.40" stroke="#000" stroke-width="1.1"/>
<line x1="339.30" y1="265.25" x2="339.30" y2="271.65" stroke="#000" stroke-width="1.6"/>
<line x1="336.53" y1="266.85" x2="342.07" y2="270.05" stroke="#000" stroke-width="1.6"/>
<line x1="336.53" y1="270.05" x2="342.07" y2="266.85" stroke="#000" stroke-width="1.6"/>
<line x1="346.70" y1="265.25" x2="346.70" y2="271.65" stroke="#000" stroke-width="1.6"/>
<line x1="343.93" y1="266.85" x2="349.47" y2="270.05" stroke="#000" stroke-width="1.6"/>
<line x1="343.93" y1="270.05" x2="349.47" y2="266.85" stroke="#000" stroke-width="1.6"/>
<line x1="364.60" y1="276.40" x2="381.40" y2="276.40" stroke="#000" stroke-width="1.1"/>
<line x1="373.00" y1="265.25" x2="373.00" y2="271.65" stroke="#000" stroke-width="1.6"/>
<line x1="370.23" y1="266.85" x2="375.77" y2="270.05" stroke="#000" stroke-width="1.6"/>
<line x1="370.23" y1="270.05" x2="375.77" y2="266.85" stroke="#000" stroke-width="1.6"/>
<line x1="362.40" y1="253.20" x2="399.60" y2="253.20" stroke="#000" stroke-width="1.1"/>
<line x1="381.00" y1="242.05" x2="381.00" y2="248.45" stroke="#000" stroke-width="1.6"/>
<line x1="378.23" y1="243.65" x2="383.77" y2="246.85" stroke="#000" stroke-width="1.6"/>
<line x1="378.23" y1="246.85" x2="383.77" y2="243.65" stroke="#000" stroke-width="1.6"/>
<line x1="362.40" y1="229.80" x2="418.00" y2="229.80" stroke="#000" stroke-width="1.1"/>
<line x1="390.00" y1="218.65" x2="390.00" y2="225.05" stroke="#000" stroke-width="1.6"/>
<line x1="387.23" y1="220.25" x2="392.77" y2="223.45" stroke="#000" stroke-width="1.6"/>
<line x1="387.23" y1="223.45" x2="392.77" y2="220.25" stroke="#000" stroke-width="1.6"/>
<text x="327.90" y="405.30" font-size="8.95" font-weight="bold" text-anchor="end" fill="#000" transform="rotate(-45 327.90 405.30)">ND</text>
<text x="346.33" y="405.30" font-size="8.95" font-weight="bold" text-anchor="end" fill="#000" transform="rotate(-45 346.33 405.30)">ND + &#945;-PCSK9 mAb 10 mg/kg</text>
<text x="364.76" y="405.30" font-size="8.95" font-weight="bold" text-anchor="end" fill="#000" transform="rotate(-45 364.76 405.30)">HFD</text>
<text x="383.19" y="405.30" font-size="8.95" font-weight="bold" text-anchor="end" fill="#000" transform="rotate(-45 383.19 405.30)">HFD + &#945;-PCSK9 mAb 3 mg/kg</text>
<text x="401.62" y="405.30" font-size="8.95" font-weight="bold" text-anchor="end" fill="#000" transform="rotate(-45 401.62 405.30)">HFD + &#945;-PCSK9 mAb10 mg/kg</text>
<text x="420.05" y="405.30" font-size="8.95" font-weight="bold" text-anchor="end" fill="#000" transform="rotate(-45 420.05 405.30)">HFD + Statin</text>
<text x="282.40" y="332.20" font-size="10.9" font-weight="bold" text-anchor="middle" fill="#000" transform="rotate(-90 282.40 332.20)" textLength="58.40" lengthAdjust="spacingAndGlyphs">IL-6 (pg/ml)</text>
<text x="475.00" y="270.40" font-size="12.2" font-weight="bold" text-anchor="start" fill="#000">E</text>
<line x1="554.00" y1="275.10" x2="554.00" y2="392.90" stroke="#000" stroke-width="1.3"/>
<line x1="553.40" y1="392.30" x2="671.00" y2="392.30" stroke="#000" stroke-width="1.3"/>
<line x1="549.40" y1="392.30" x2="554.00" y2="392.30" stroke="#000" stroke-width="1.2"/>
<text x="546.60" y="395.30" font-size="8.4" font-weight="bold" text-anchor="end" fill="#000">0</text>
<line x1="549.40" y1="363.15" x2="554.00" y2="363.15" stroke="#000" stroke-width="1.2"/>
<text x="546.60" y="366.15" font-size="8.4" font-weight="bold" text-anchor="end" fill="#000">100</text>
<line x1="549.40" y1="334.00" x2="554.00" y2="334.00" stroke="#000" stroke-width="1.2"/>
<text x="546.60" y="337.00" font-size="8.4" font-weight="bold" text-anchor="end" fill="#000">200</text>
<line x1="549.40" y1="304.85" x2="554.00" y2="304.85" stroke="#000" stroke-width="1.2"/>
<text x="546.60" y="307.85" font-size="8.4" font-weight="bold" text-anchor="end" fill="#000">300</text>
<line x1="549.40" y1="275.70" x2="554.00" y2="275.70" stroke="#000" stroke-width="1.2"/>
<text x="546.60" y="278.70" font-size="8.4" font-weight="bold" text-anchor="end" fill="#000">400</text>
<line x1="566.30" y1="392.30" x2="566.30" y2="397.30" stroke="#000" stroke-width="1.2"/>
<line x1="584.73" y1="392.30" x2="584.73" y2="397.30" stroke="#000" stroke-width="1.2"/>
<line x1="603.16" y1="392.30" x2="603.16" y2="397.30" stroke="#000" stroke-width="1.2"/>
<line x1="621.59" y1="392.30" x2="621.59" y2="397.30" stroke="#000" stroke-width="1.2"/>
<line x1="640.02" y1="392.30" x2="640.02" y2="397.30" stroke="#000" stroke-width="1.2"/>
<line x1="658.45" y1="392.30" x2="658.45" y2="397.30" stroke="#000" stroke-width="1.2"/>
<rect x="561.00" y="364.72" width="10.6" height="27.58" fill="#6f6f6f" stroke="#000" stroke-width="1.45"/>
<rect x="579.43" y="360.29" width="10.6" height="32.01" fill="#cdcdcd" stroke="#000" stroke-width="1.45"/>
<rect x="597.86" y="322.07" width="10.6" height="70.23" fill="#bbbbbb" stroke="#000" stroke-width="1.45"/>
<rect x="616.29" y="366.32" width="10.6" height="25.98" fill="#e8e8e8" stroke="#000" stroke-width="1.45"/>
<rect x="634.72" y="367.78" width="10.6" height="24.52" fill="#a8a8a8" stroke="#000" stroke-width="1.45"/>
<rect x="653.15" y="357.29" width="10.6" height="35.01" fill="#d0d0d0" stroke="#000" stroke-width="1.45"/>
<line x1="566.30" y1="349.74" x2="566.30" y2="378.75" stroke="#333" stroke-width="0.8"/>
<line x1="563.60" y1="349.74" x2="569.00" y2="349.74" stroke="#333" stroke-width="0.85"/>
<line x1="563.60" y1="378.75" x2="569.00" y2="378.75" stroke="#333" stroke-width="0.85"/>
<line x1="584.73" y1="351.29" x2="584.73" y2="367.61" stroke="#333" stroke-width="0.8"/>
<line x1="582.03" y1="351.29" x2="587.43" y2="351.29" stroke="#333" stroke-width="0.85"/>
<line x1="582.03" y1="367.61" x2="587.43" y2="367.61" stroke="#333" stroke-width="0.85"/>
<line x1="603.16" y1="310.74" x2="603.16" y2="333.18" stroke="#333" stroke-width="0.8"/>
<line x1="600.46" y1="310.74" x2="605.86" y2="310.74" stroke="#333" stroke-width="0.85"/>
<line x1="600.46" y1="333.18" x2="605.86" y2="333.18" stroke="#333" stroke-width="0.85"/>
<line x1="621.59" y1="357.32" x2="621.59" y2="373.21" stroke="#333" stroke-width="0.8"/>
<line x1="618.89" y1="357.32" x2="624.29" y2="357.32" stroke="#333" stroke-width="0.85"/>
<line x1="618.89" y1="373.21" x2="624.29" y2="373.21" stroke="#333" stroke-width="0.85"/>
<line x1="640.02" y1="360.82" x2="640.02" y2="372.77" stroke="#333" stroke-width="0.8"/>
<line x1="637.32" y1="360.82" x2="642.72" y2="360.82" stroke="#333" stroke-width="0.85"/>
<line x1="637.32" y1="372.77" x2="642.72" y2="372.77" stroke="#333" stroke-width="0.85"/>
<line x1="658.45" y1="353.82" x2="658.45" y2="359.36" stroke="#333" stroke-width="0.8"/>
<line x1="655.75" y1="353.82" x2="661.15" y2="353.82" stroke="#333" stroke-width="0.85"/>
<line x1="655.75" y1="359.36" x2="661.15" y2="359.36" stroke="#333" stroke-width="0.85"/>
<circle cx="566.00" cy="328.40" r="2.45" fill="#000"/>
<circle cx="566.00" cy="350.00" r="2.45" fill="#000"/>
<circle cx="562.60" cy="390.00" r="2.45" fill="#000"/>
<circle cx="570.00" cy="386.40" r="2.45" fill="#000"/>
<circle cx="584.40" cy="338.40" r="2.45" fill="#000"/>
<circle cx="584.40" cy="349.60" r="2.45" fill="#000"/>
<circle cx="584.40" cy="355.00" r="2.45" fill="#000"/>
<circle cx="584.40" cy="368.00" r="2.45" fill="#000"/>
<circle cx="584.40" cy="388.00" r="2.45" fill="#000"/>
<circle cx="603.00" cy="291.00" r="2.45" fill="#000"/>
<circle cx="603.00" cy="298.40" r="2.45" fill="#000"/>
<circle cx="603.00" cy="330.40" r="2.45" fill="#000"/>
<circle cx="599.40" cy="345.40" r="2.45" fill="#000"/>
<circle cx="606.60" cy="341.60" r="2.45" fill="#000"/>
<circle cx="617.60" cy="350.60" r="2.45" fill="#000"/>
<circle cx="625.40" cy="352.40" r="2.45" fill="#000"/>
<circle cx="621.40" cy="358.00" r="2.45" fill="#000"/>
<circle cx="621.40" cy="374.40" r="2.45" fill="#000"/>
<circle cx="621.40" cy="390.00" r="2.45" fill="#000"/>
<circle cx="639.80" cy="348.60" r="2.45" fill="#000"/>
<circle cx="636.00" cy="358.00" r="2.45" fill="#000"/>
<circle cx="643.40" cy="361.00" r="2.45" fill="#000"/>
<circle cx="638.00" cy="368.00" r="2.45" fill="#000"/>
<circle cx="643.00" cy="372.00" r="2.45" fill="#000"/>
<circle cx="639.80" cy="390.00" r="2.45" fill="#000"/>
<circle cx="658.20" cy="347.00" r="2.45" fill="#000"/>
<circle cx="654.40" cy="356.40" r="2.45" fill="#000"/>
<circle cx="662.00" cy="354.00" r="2.45" fill="#000"/>
<circle cx="655.00" cy="362.40" r="2.45" fill="#000"/>
<circle cx="661.00" cy="363.00" r="2.45" fill="#000"/>
<line x1="566.00" y1="277.60" x2="601.00" y2="277.60" stroke="#000" stroke-width="1.1"/>
<line x1="583.60" y1="266.45" x2="583.60" y2="272.85" stroke="#000" stroke-width="1.6"/>
<line x1="580.83" y1="268.05" x2="586.37" y2="271.25" stroke="#000" stroke-width="1.6"/>
<line x1="580.83" y1="271.25" x2="586.37" y2="268.05" stroke="#000" stroke-width="1.6"/>
<line x1="605.00" y1="277.60" x2="622.00" y2="277.60" stroke="#000" stroke-width="1.1"/>
<line x1="613.60" y1="266.45" x2="613.60" y2="272.85" stroke="#000" stroke-width="1.6"/>
<line x1="610.83" y1="268.05" x2="616.37" y2="271.25" stroke="#000" stroke-width="1.6"/>
<line x1="610.83" y1="271.25" x2="616.37" y2="268.05" stroke="#000" stroke-width="1.6"/>
<line x1="603.00" y1="254.00" x2="640.00" y2="254.00" stroke="#000" stroke-width="1.1"/>
<line x1="621.60" y1="242.85" x2="621.60" y2="249.25" stroke="#000" stroke-width="1.6"/>
<line x1="618.83" y1="244.45" x2="624.37" y2="247.65" stroke="#000" stroke-width="1.6"/>
<line x1="618.83" y1="247.65" x2="624.37" y2="244.45" stroke="#000" stroke-width="1.6"/>
<text x="568.40" y="405.20" font-size="8.95" font-weight="bold" text-anchor="end" fill="#000" transform="rotate(-45 568.40 405.20)">ND</text>
<text x="586.83" y="405.20" font-size="8.95" font-weight="bold" text-anchor="end" fill="#000" transform="rotate(-45 586.83 405.20)">ND + &#945;-PCSK9 mAb 10 mg/kg</text>
<text x="605.26" y="405.20" font-size="8.95" font-weight="bold" text-anchor="end" fill="#000" transform="rotate(-45 605.26 405.20)">HFD</text>
<text x="623.69" y="405.20" font-size="8.95" font-weight="bold" text-anchor="end" fill="#000" transform="rotate(-45 623.69 405.20)">HFD + &#945;-PCSK9 mAb 3 mg/kg</text>
<text x="642.12" y="405.20" font-size="8.95" font-weight="bold" text-anchor="end" fill="#000" transform="rotate(-45 642.12 405.20)">HFD + &#945;-PCSK9 mAb10 mg/kg</text>
<text x="660.55" y="405.20" font-size="8.95" font-weight="bold" text-anchor="end" fill="#000" transform="rotate(-45 660.55 405.20)">HFD + Statin</text>
<text x="526.00" y="333.20" font-size="10.9" font-weight="bold" text-anchor="middle" fill="#000" transform="rotate(-90 526.00 333.20)" textLength="67.10" lengthAdjust="spacingAndGlyphs">IL-17a(pg/ml)</text>
<text x="7.60" y="548.00" font-size="12.2" font-weight="bold" text-anchor="start" fill="#000">F</text>
<line x1="92.20" y1="542.30" x2="92.20" y2="660.10" stroke="#000" stroke-width="1.3"/>
<line x1="91.60" y1="659.50" x2="209.20" y2="659.50" stroke="#000" stroke-width="1.3"/>
<line x1="87.60" y1="659.50" x2="92.20" y2="659.50" stroke="#000" stroke-width="1.2"/>
<text x="84.80" y="662.50" font-size="8.4" font-weight="bold" text-anchor="end" fill="#000">0</text>
<line x1="87.60" y1="636.18" x2="92.20" y2="636.18" stroke="#000" stroke-width="1.2"/>
<text x="84.80" y="639.18" font-size="8.4" font-weight="bold" text-anchor="end" fill="#000">1000</text>
<line x1="87.60" y1="612.86" x2="92.20" y2="612.86" stroke="#000" stroke-width="1.2"/>
<text x="84.80" y="615.86" font-size="8.4" font-weight="bold" text-anchor="end" fill="#000">2000</text>
<line x1="87.60" y1="589.54" x2="92.20" y2="589.54" stroke="#000" stroke-width="1.2"/>
<text x="84.80" y="592.54" font-size="8.4" font-weight="bold" text-anchor="end" fill="#000">3000</text>
<line x1="87.60" y1="566.22" x2="92.20" y2="566.22" stroke="#000" stroke-width="1.2"/>
<text x="84.80" y="569.22" font-size="8.4" font-weight="bold" text-anchor="end" fill="#000">4000</text>
<line x1="87.60" y1="542.90" x2="92.20" y2="542.90" stroke="#000" stroke-width="1.2"/>
<text x="84.80" y="545.90" font-size="8.4" font-weight="bold" text-anchor="end" fill="#000">5000</text>
<line x1="104.50" y1="659.50" x2="104.50" y2="664.50" stroke="#000" stroke-width="1.2"/>
<line x1="122.93" y1="659.50" x2="122.93" y2="664.50" stroke="#000" stroke-width="1.2"/>
<line x1="141.36" y1="659.50" x2="141.36" y2="664.50" stroke="#000" stroke-width="1.2"/>
<line x1="159.79" y1="659.50" x2="159.79" y2="664.50" stroke="#000" stroke-width="1.2"/>
<line x1="178.22" y1="659.50" x2="178.22" y2="664.50" stroke="#000" stroke-width="1.2"/>
<line x1="196.65" y1="659.50" x2="196.65" y2="664.50" stroke="#000" stroke-width="1.2"/>
<rect x="99.20" y="587.57" width="10.6" height="71.93" fill="#6f6f6f" stroke="#000" stroke-width="1.45"/>
<rect x="117.63" y="574.21" width="10.6" height="85.29" fill="#cdcdcd" stroke="#000" stroke-width="1.45"/>
<rect x="136.06" y="566.12" width="10.6" height="93.38" fill="#bbbbbb" stroke="#000" stroke-width="1.45"/>
<rect x="154.49" y="587.08" width="10.6" height="72.42" fill="#e8e8e8" stroke="#000" stroke-width="1.45"/>
<rect x="172.92" y="594.75" width="10.6" height="64.75" fill="#a8a8a8" stroke="#000" stroke-width="1.45"/>
<rect x="191.35" y="595.27" width="10.6" height="64.23" fill="#d0d0d0" stroke="#000" stroke-width="1.45"/>
<line x1="104.50" y1="583.71" x2="104.50" y2="590.52" stroke="#333" stroke-width="0.8"/>
<line x1="101.80" y1="583.71" x2="107.20" y2="583.71" stroke="#333" stroke-width="0.85"/>
<line x1="101.80" y1="590.52" x2="107.20" y2="590.52" stroke="#333" stroke-width="0.85"/>
<line x1="122.93" y1="572.49" x2="122.93" y2="574.83" stroke="#333" stroke-width="0.8"/>
<line x1="120.23" y1="572.49" x2="125.63" y2="572.49" stroke="#333" stroke-width="0.85"/>
<line x1="120.23" y1="574.83" x2="125.63" y2="574.83" stroke="#333" stroke-width="0.85"/>
<line x1="141.36" y1="563.70" x2="141.36" y2="567.43" stroke="#333" stroke-width="0.8"/>
<line x1="138.66" y1="563.70" x2="144.06" y2="563.70" stroke="#333" stroke-width="0.85"/>
<line x1="138.66" y1="567.43" x2="144.06" y2="567.43" stroke="#333" stroke-width="0.85"/>
<line x1="159.79" y1="582.33" x2="159.79" y2="590.01" stroke="#333" stroke-width="0.8"/>
<line x1="157.09" y1="582.33" x2="162.49" y2="582.33" stroke="#333" stroke-width="0.85"/>
<line x1="157.09" y1="590.01" x2="162.49" y2="590.01" stroke="#333" stroke-width="0.85"/>
<line x1="178.22" y1="589.54" x2="178.22" y2="598.61" stroke="#333" stroke-width="0.8"/>
<line x1="175.52" y1="589.54" x2="180.92" y2="589.54" stroke="#333" stroke-width="0.85"/>
<line x1="175.52" y1="598.61" x2="180.92" y2="598.61" stroke="#333" stroke-width="0.85"/>
<line x1="196.65" y1="590.52" x2="196.65" y2="598.61" stroke="#333" stroke-width="0.8"/>
<line x1="193.95" y1="590.52" x2="199.35" y2="590.52" stroke="#333" stroke-width="0.85"/>
<line x1="193.95" y1="598.61" x2="199.35" y2="598.61" stroke="#333" stroke-width="0.85"/>
<circle cx="100.90" cy="582.90" r="2.45" fill="#000"/>
<circle cx="108.40" cy="583.40" r="2.45" fill="#000"/>
<circle cx="104.40" cy="593.40" r="2.45" fill="#000"/>
<circle cx="119.60" cy="571.90" r="2.45" fill="#000"/>
<circle cx="123.00" cy="571.90" r="2.45" fill="#000"/>
<circle cx="126.60" cy="573.10" r="2.45" fill="#000"/>
<circle cx="123.00" cy="579.40" r="2.45" fill="#000"/>
<circle cx="141.30" cy="558.40" r="2.45" fill="#000"/>
<circle cx="138.30" cy="564.20" r="2.45" fill="#000"/>
<circle cx="144.60" cy="564.20" r="2.45" fill="#000"/>
<circle cx="139.40" cy="569.30" r="2.45" fill="#000"/>
<circle cx="143.40" cy="569.30" r="2.45" fill="#000"/>
<circle cx="159.70" cy="579.40" r="2.45" fill="#000"/>
<circle cx="155.80" cy="591.80" r="2.45" fill="#000"/>
<circle cx="163.50" cy="587.60" r="2.45" fill="#000"/>
<circle cx="181.50" cy="584.80" r="2.45" fill="#000"/>
<circle cx="174.50" cy="589.40" r="2.45" fill="#000"/>
<circle cx="174.50" cy="601.60" r="2.45" fill="#000"/>
<circle cx="181.50" cy="600.90" r="2.45" fill="#000"/>
<circle cx="192.70" cy="584.80" r="2.45" fill="#000"/>
<circle cx="200.20" cy="585.90" r="2.45" fill="#000"/>
<circle cx="195.50" cy="590.60" r="2.45" fill="#000"/>
<circle cx="196.60" cy="601.60" r="2.45" fill="#000"/>
<circle cx="196.60" cy="607.90" r="2.45" fill="#000"/>
<line x1="104.40" y1="544.60" x2="139.60" y2="544.60" stroke="#000" stroke-width="1.1"/>
<line x1="118.30" y1="533.45" x2="118.30" y2="539.85" stroke="#000" stroke-width="1.6"/>
<line x1="115.53" y1="535.05" x2="121.07" y2="538.25" stroke="#000" stroke-width="1.6"/>
<line x1="115.53" y1="538.25" x2="121.07" y2="535.05" stroke="#000" stroke-width="1.6"/>
<line x1="125.70" y1="533.45" x2="125.70" y2="539.85" stroke="#000" stroke-width="1.6"/>
<line x1="122.93" y1="535.05" x2="128.47" y2="538.25" stroke="#000" stroke-width="1.6"/>
<line x1="122.93" y1="538.25" x2="128.47" y2="535.05" stroke="#000" stroke-width="1.6"/>
<line x1="143.40" y1="544.60" x2="160.00" y2="544.60" stroke="#000" stroke-width="1.1"/>
<line x1="148.30" y1="533.45" x2="148.30" y2="539.85" stroke="#000" stroke-width="1.6"/>
<line x1="145.53" y1="535.05" x2="151.07" y2="538.25" stroke="#000" stroke-width="1.6"/>
<line x1="145.53" y1="538.25" x2="151.07" y2="535.05" stroke="#000" stroke-width="1.6"/>
<line x1="155.70" y1="533.45" x2="155.70" y2="539.85" stroke="#000" stroke-width="1.6"/>
<line x1="152.93" y1="535.05" x2="158.47" y2="538.25" stroke="#000" stroke-width="1.6"/>
<line x1="152.93" y1="538.25" x2="158.47" y2="535.05" stroke="#000" stroke-width="1.6"/>
<line x1="141.00" y1="521.20" x2="178.60" y2="521.20" stroke="#000" stroke-width="1.1"/>
<line x1="152.20" y1="510.05" x2="152.20" y2="516.45" stroke="#000" stroke-width="1.6"/>
<line x1="149.43" y1="511.65" x2="154.97" y2="514.85" stroke="#000" stroke-width="1.6"/>
<line x1="149.43" y1="514.85" x2="154.97" y2="511.65" stroke="#000" stroke-width="1.6"/>
<line x1="159.60" y1="510.05" x2="159.60" y2="516.45" stroke="#000" stroke-width="1.6"/>
<line x1="156.83" y1="511.65" x2="162.37" y2="514.85" stroke="#000" stroke-width="1.6"/>
<line x1="156.83" y1="514.85" x2="162.37" y2="511.65" stroke="#000" stroke-width="1.6"/>
<line x1="167.00" y1="510.05" x2="167.00" y2="516.45" stroke="#000" stroke-width="1.6"/>
<line x1="164.23" y1="511.65" x2="169.77" y2="514.85" stroke="#000" stroke-width="1.6"/>
<line x1="164.23" y1="514.85" x2="169.77" y2="511.65" stroke="#000" stroke-width="1.6"/>
<line x1="141.00" y1="497.40" x2="197.00" y2="497.40" stroke="#000" stroke-width="1.1"/>
<line x1="161.60" y1="486.25" x2="161.60" y2="492.65" stroke="#000" stroke-width="1.6"/>
<line x1="158.83" y1="487.85" x2="164.37" y2="491.05" stroke="#000" stroke-width="1.6"/>
<line x1="158.83" y1="491.05" x2="164.37" y2="487.85" stroke="#000" stroke-width="1.6"/>
<line x1="169.00" y1="486.25" x2="169.00" y2="492.65" stroke="#000" stroke-width="1.6"/>
<line x1="166.23" y1="487.85" x2="171.77" y2="491.05" stroke="#000" stroke-width="1.6"/>
<line x1="166.23" y1="491.05" x2="171.77" y2="487.85" stroke="#000" stroke-width="1.6"/>
<line x1="176.40" y1="486.25" x2="176.40" y2="492.65" stroke="#000" stroke-width="1.6"/>
<line x1="173.63" y1="487.85" x2="179.17" y2="491.05" stroke="#000" stroke-width="1.6"/>
<line x1="173.63" y1="491.05" x2="179.17" y2="487.85" stroke="#000" stroke-width="1.6"/>
<text x="106.60" y="672.40" font-size="8.95" font-weight="bold" text-anchor="end" fill="#000" transform="rotate(-45 106.60 672.40)">ND</text>
<text x="125.03" y="672.40" font-size="8.95" font-weight="bold" text-anchor="end" fill="#000" transform="rotate(-45 125.03 672.40)">ND + &#945;-PCSK9 mAb 10 mg/kg</text>
<text x="143.46" y="672.40" font-size="8.95" font-weight="bold" text-anchor="end" fill="#000" transform="rotate(-45 143.46 672.40)">HFD</text>
<text x="161.89" y="672.40" font-size="8.95" font-weight="bold" text-anchor="end" fill="#000" transform="rotate(-45 161.89 672.40)">HFD + &#945;-PCSK9 mAb 3 mg/kg</text>
<text x="180.32" y="672.40" font-size="8.95" font-weight="bold" text-anchor="end" fill="#000" transform="rotate(-45 180.32 672.40)">HFD + &#945;-PCSK9 mAb10 mg/kg</text>
<text x="198.75" y="672.40" font-size="8.95" font-weight="bold" text-anchor="end" fill="#000" transform="rotate(-45 198.75 672.40)">HFD + Statin</text>
<text x="57.40" y="595.60" font-size="10.9" font-weight="bold" text-anchor="middle" fill="#000" transform="rotate(-90 57.40 595.60)" textLength="64.90" lengthAdjust="spacingAndGlyphs">IL-18 (pg/ml)</text>
<text x="241.00" y="548.00" font-size="12.2" font-weight="bold" text-anchor="start" fill="#000">G</text>
<line x1="313.40" y1="542.10" x2="313.40" y2="659.90" stroke="#000" stroke-width="1.3"/>
<line x1="312.80" y1="659.30" x2="430.40" y2="659.30" stroke="#000" stroke-width="1.3"/>
<line x1="308.80" y1="659.30" x2="313.40" y2="659.30" stroke="#000" stroke-width="1.2"/>
<text x="306.00" y="662.30" font-size="8.4" font-weight="bold" text-anchor="end" fill="#000">0</text>
<line x1="308.80" y1="630.15" x2="313.40" y2="630.15" stroke="#000" stroke-width="1.2"/>
<text x="306.00" y="633.15" font-size="8.4" font-weight="bold" text-anchor="end" fill="#000">50</text>
<line x1="308.80" y1="601.00" x2="313.40" y2="601.00" stroke="#000" stroke-width="1.2"/>
<text x="306.00" y="604.00" font-size="8.4" font-weight="bold" text-anchor="end" fill="#000">100</text>
<line x1="308.80" y1="571.85" x2="313.40" y2="571.85" stroke="#000" stroke-width="1.2"/>
<text x="306.00" y="574.85" font-size="8.4" font-weight="bold" text-anchor="end" fill="#000">150</text>
<line x1="308.80" y1="542.70" x2="313.40" y2="542.70" stroke="#000" stroke-width="1.2"/>
<text x="306.00" y="545.70" font-size="8.4" font-weight="bold" text-anchor="end" fill="#000">200</text>
<line x1="325.70" y1="659.30" x2="325.70" y2="664.30" stroke="#000" stroke-width="1.2"/>
<line x1="344.13" y1="659.30" x2="344.13" y2="664.30" stroke="#000" stroke-width="1.2"/>
<line x1="362.56" y1="659.30" x2="362.56" y2="664.30" stroke="#000" stroke-width="1.2"/>
<line x1="380.99" y1="659.30" x2="380.99" y2="664.30" stroke="#000" stroke-width="1.2"/>
<line x1="399.42" y1="659.30" x2="399.42" y2="664.30" stroke="#000" stroke-width="1.2"/>
<line x1="417.85" y1="659.30" x2="417.85" y2="664.30" stroke="#000" stroke-width="1.2"/>
<rect x="320.40" y="644.46" width="10.6" height="14.84" fill="#6f6f6f" stroke="#000" stroke-width="1.45"/>
<rect x="338.83" y="641.66" width="10.6" height="17.64" fill="#cdcdcd" stroke="#000" stroke-width="1.45"/>
<rect x="357.26" y="607.38" width="10.6" height="51.92" fill="#bbbbbb" stroke="#000" stroke-width="1.45"/>
<rect x="375.69" y="637.46" width="10.6" height="21.84" fill="#e8e8e8" stroke="#000" stroke-width="1.45"/>
<rect x="394.12" y="643.29" width="10.6" height="16.01" fill="#a8a8a8" stroke="#000" stroke-width="1.45"/>
<rect x="412.55" y="628.08" width="10.6" height="31.22" fill="#d0d0d0" stroke="#000" stroke-width="1.45"/>
<line x1="325.70" y1="636.45" x2="325.70" y2="650.55" stroke="#333" stroke-width="0.8"/>
<line x1="323.00" y1="636.45" x2="328.40" y2="636.45" stroke="#333" stroke-width="0.85"/>
<line x1="323.00" y1="650.55" x2="328.40" y2="650.55" stroke="#333" stroke-width="0.85"/>
<line x1="344.13" y1="631.32" x2="344.13" y2="650.55" stroke="#333" stroke-width="0.8"/>
<line x1="341.43" y1="631.32" x2="346.83" y2="631.32" stroke="#333" stroke-width="0.85"/>
<line x1="341.43" y1="650.55" x2="346.83" y2="650.55" stroke="#333" stroke-width="0.85"/>
<line x1="362.56" y1="595.75" x2="362.56" y2="617.32" stroke="#333" stroke-width="0.8"/>
<line x1="359.86" y1="595.75" x2="365.26" y2="595.75" stroke="#333" stroke-width="0.85"/>
<line x1="359.86" y1="617.32" x2="365.26" y2="617.32" stroke="#333" stroke-width="0.85"/>
<line x1="380.99" y1="631.90" x2="380.99" y2="641.81" stroke="#333" stroke-width="0.8"/>
<line x1="378.29" y1="631.90" x2="383.69" y2="631.90" stroke="#333" stroke-width="0.85"/>
<line x1="378.29" y1="641.81" x2="383.69" y2="641.81" stroke="#333" stroke-width="0.85"/>
<line x1="399.42" y1="640.06" x2="399.42" y2="644.72" stroke="#333" stroke-width="0.8"/>
<line x1="396.72" y1="640.06" x2="402.12" y2="640.06" stroke="#333" stroke-width="0.85"/>
<line x1="396.72" y1="644.72" x2="402.12" y2="644.72" stroke="#333" stroke-width="0.85"/>
<line x1="417.85" y1="621.99" x2="417.85" y2="633.06" stroke="#333" stroke-width="0.8"/>
<line x1="415.15" y1="621.99" x2="420.55" y2="621.99" stroke="#333" stroke-width="0.85"/>
<line x1="415.15" y1="633.06" x2="420.55" y2="633.06" stroke="#333" stroke-width="0.85"/>
<circle cx="325.70" cy="621.80" r="2.45" fill="#000"/>
<circle cx="323.40" cy="649.10" r="2.45" fill="#000"/>
<circle cx="327.80" cy="649.10" r="2.45" fill="#000"/>
<circle cx="325.70" cy="652.00" r="2.45" fill="#000"/>
<circle cx="344.20" cy="621.10" r="2.45" fill="#000"/>
<circle cx="341.90" cy="650.30" r="2.45" fill="#000"/>
<circle cx="347.90" cy="649.10" r="2.45" fill="#000"/>
<circle cx="362.60" cy="562.70" r="2.45" fill="#000"/>
<circle cx="359.00" cy="614.10" r="2.45" fill="#000"/>
<circle cx="366.20" cy="611.20" r="2.45" fill="#000"/>
<circle cx="366.20" cy="618.80" r="2.45" fill="#000"/>
<circle cx="362.80" cy="624.70" r="2.45" fill="#000"/>
<circle cx="376.90" cy="625.80" r="2.45" fill="#000"/>
<circle cx="384.60" cy="625.80" r="2.45" fill="#000"/>
<circle cx="381.10" cy="637.50" r="2.45" fill="#000"/>
<circle cx="381.10" cy="643.30" r="2.45" fill="#000"/>
<circle cx="381.10" cy="650.30" r="2.45" fill="#000"/>
<circle cx="399.60" cy="632.80" r="2.45" fill="#000"/>
<circle cx="396.30" cy="641.70" r="2.45" fill="#000"/>
<circle cx="403.30" cy="641.00" r="2.45" fill="#000"/>
<circle cx="399.60" cy="644.50" r="2.45" fill="#000"/>
<circle cx="414.00" cy="615.00" r="2.45" fill="#000"/>
<circle cx="414.00" cy="620.80" r="2.45" fill="#000"/>
<circle cx="421.60" cy="618.50" r="2.45" fill="#000"/>
<circle cx="418.00" cy="634.00" r="2.45" fill="#000"/>
<circle cx="418.00" cy="645.60" r="2.45" fill="#000"/>
<line x1="325.00" y1="549.20" x2="360.80" y2="549.20" stroke="#000" stroke-width="1.1"/>
<line x1="343.30" y1="538.05" x2="343.30" y2="544.45" stroke="#000" stroke-width="1.6"/>
<line x1="340.53" y1="539.65" x2="346.07" y2="542.85" stroke="#000" stroke-width="1.6"/>
<line x1="340.53" y1="542.85" x2="346.07" y2="539.65" stroke="#000" stroke-width="1.6"/>
<line x1="364.30" y1="549.20" x2="399.80" y2="549.20" stroke="#000" stroke-width="1.1"/>
<line x1="382.30" y1="538.05" x2="382.30" y2="544.45" stroke="#000" stroke-width="1.6"/>
<line x1="379.53" y1="539.65" x2="385.07" y2="542.85" stroke="#000" stroke-width="1.6"/>
<line x1="379.53" y1="542.85" x2="385.07" y2="539.65" stroke="#000" stroke-width="1.6"/>
<text x="327.80" y="672.20" font-size="8.95" font-weight="bold" text-anchor="end" fill="#000" transform="rotate(-45 327.80 672.20)">ND</text>
<text x="346.23" y="672.20" font-size="8.95" font-weight="bold" text-anchor="end" fill="#000" transform="rotate(-45 346.23 672.20)">ND + &#945;-PCSK9 mAb 10 mg/kg</text>
<text x="364.66" y="672.20" font-size="8.95" font-weight="bold" text-anchor="end" fill="#000" transform="rotate(-45 364.66 672.20)">HFD</text>
<text x="383.09" y="672.20" font-size="8.95" font-weight="bold" text-anchor="end" fill="#000" transform="rotate(-45 383.09 672.20)">HFD + &#945;-PCSK9 mAb 3 mg/kg</text>
<text x="401.52" y="672.20" font-size="8.95" font-weight="bold" text-anchor="end" fill="#000" transform="rotate(-45 401.52 672.20)">HFD + &#945;-PCSK9 mAb10 mg/kg</text>
<text x="419.95" y="672.20" font-size="8.95" font-weight="bold" text-anchor="end" fill="#000" transform="rotate(-45 419.95 672.20)">HFD + Statin</text>
<text x="288.20" y="600.50" font-size="10.9" font-weight="bold" text-anchor="middle" fill="#000" transform="rotate(-90 288.20 600.50)" textLength="68.10" lengthAdjust="spacingAndGlyphs">TNF<tspan font-weight="normal">&#945;</tspan> (pg/ml)</text>
<text x="475.00" y="548.00" font-size="12.2" font-weight="bold" text-anchor="start" fill="#000">H</text>
<line x1="553.70" y1="542.40" x2="553.70" y2="660.20" stroke="#000" stroke-width="1.3"/>
<line x1="553.10" y1="659.60" x2="670.70" y2="659.60" stroke="#000" stroke-width="1.3"/>
<line x1="549.10" y1="659.60" x2="553.70" y2="659.60" stroke="#000" stroke-width="1.2"/>
<text x="546.30" y="662.60" font-size="8.4" font-weight="bold" text-anchor="end" fill="#000">0</text>
<line x1="549.10" y1="636.28" x2="553.70" y2="636.28" stroke="#000" stroke-width="1.2"/>
<text x="546.30" y="639.28" font-size="8.4" font-weight="bold" text-anchor="end" fill="#000">200</text>
<line x1="549.10" y1="612.96" x2="553.70" y2="612.96" stroke="#000" stroke-width="1.2"/>
<text x="546.30" y="615.96" font-size="8.4" font-weight="bold" text-anchor="end" fill="#000">400</text>
<line x1="549.10" y1="589.64" x2="553.70" y2="589.64" stroke="#000" stroke-width="1.2"/>
<text x="546.30" y="592.64" font-size="8.4" font-weight="bold" text-anchor="end" fill="#000">600</text>
<line x1="549.10" y1="566.32" x2="553.70" y2="566.32" stroke="#000" stroke-width="1.2"/>
<text x="546.30" y="569.32" font-size="8.4" font-weight="bold" text-anchor="end" fill="#000">800</text>
<line x1="549.10" y1="543.00" x2="553.70" y2="543.00" stroke="#000" stroke-width="1.2"/>
<text x="546.30" y="546.00" font-size="8.4" font-weight="bold" text-anchor="end" fill="#000">1000</text>
<line x1="566.00" y1="659.60" x2="566.00" y2="664.60" stroke="#000" stroke-width="1.2"/>
<line x1="584.43" y1="659.60" x2="584.43" y2="664.60" stroke="#000" stroke-width="1.2"/>
<line x1="602.86" y1="659.60" x2="602.86" y2="664.60" stroke="#000" stroke-width="1.2"/>
<line x1="621.29" y1="659.60" x2="621.29" y2="664.60" stroke="#000" stroke-width="1.2"/>
<line x1="639.72" y1="659.60" x2="639.72" y2="664.60" stroke="#000" stroke-width="1.2"/>
<line x1="658.15" y1="659.60" x2="658.15" y2="664.60" stroke="#000" stroke-width="1.2"/>
<rect x="560.70" y="653.39" width="10.6" height="6.21" fill="#6f6f6f" stroke="#000" stroke-width="1.45"/>
<rect x="579.13" y="644.53" width="10.6" height="15.07" fill="#cdcdcd" stroke="#000" stroke-width="1.45"/>
<rect x="597.56" y="603.72" width="10.6" height="55.88" fill="#bbbbbb" stroke="#000" stroke-width="1.45"/>
<rect x="615.99" y="642.19" width="10.6" height="17.41" fill="#e8e8e8" stroke="#000" stroke-width="1.45"/>
<rect x="634.42" y="647.56" width="10.6" height="12.04" fill="#a8a8a8" stroke="#000" stroke-width="1.45"/>
<rect x="652.85" y="641.03" width="10.6" height="18.57" fill="#d0d0d0" stroke="#000" stroke-width="1.45"/>
<line x1="566.00" y1="646.77" x2="566.00" y2="658.67" stroke="#333" stroke-width="0.8"/>
<line x1="563.30" y1="646.77" x2="568.70" y2="646.77" stroke="#333" stroke-width="0.85"/>
<line x1="563.30" y1="658.67" x2="568.70" y2="658.67" stroke="#333" stroke-width="0.85"/>
<line x1="584.43" y1="638.61" x2="584.43" y2="649.81" stroke="#333" stroke-width="0.8"/>
<line x1="581.73" y1="638.61" x2="587.13" y2="638.61" stroke="#333" stroke-width="0.85"/>
<line x1="581.73" y1="649.81" x2="587.13" y2="649.81" stroke="#333" stroke-width="0.85"/>
<line x1="602.86" y1="587.54" x2="602.86" y2="617.62" stroke="#333" stroke-width="0.8"/>
<line x1="600.16" y1="587.54" x2="605.56" y2="587.54" stroke="#333" stroke-width="0.85"/>
<line x1="600.16" y1="617.62" x2="605.56" y2="617.62" stroke="#333" stroke-width="0.85"/>
<line x1="621.29" y1="633.48" x2="621.29" y2="648.64" stroke="#333" stroke-width="0.8"/>
<line x1="618.59" y1="633.48" x2="623.99" y2="633.48" stroke="#333" stroke-width="0.85"/>
<line x1="618.59" y1="648.64" x2="623.99" y2="648.64" stroke="#333" stroke-width="0.85"/>
<line x1="639.72" y1="640.94" x2="639.72" y2="649.81" stroke="#333" stroke-width="0.8"/>
<line x1="637.02" y1="640.94" x2="642.42" y2="640.94" stroke="#333" stroke-width="0.85"/>
<line x1="637.02" y1="649.81" x2="642.42" y2="649.81" stroke="#333" stroke-width="0.85"/>
<line x1="658.15" y1="635.35" x2="658.15" y2="643.98" stroke="#333" stroke-width="0.8"/>
<line x1="655.45" y1="635.35" x2="660.85" y2="635.35" stroke="#333" stroke-width="0.85"/>
<line x1="655.45" y1="643.98" x2="660.85" y2="643.98" stroke="#333" stroke-width="0.85"/>
<circle cx="566.30" cy="641.10" r="2.45" fill="#000"/>
<circle cx="562.40" cy="656.80" r="2.45" fill="#000"/>
<circle cx="569.40" cy="656.80" r="2.45" fill="#000"/>
<circle cx="581.00" cy="637.60" r="2.45" fill="#000"/>
<circle cx="588.00" cy="633.40" r="2.45" fill="#000"/>
<circle cx="584.60" cy="645.10" r="2.45" fill="#000"/>
<circle cx="584.60" cy="656.10" r="2.45" fill="#000"/>
<circle cx="603.00" cy="569.20" r="2.45" fill="#000"/>
<circle cx="603.00" cy="585.50" r="2.45" fill="#000"/>
<circle cx="603.00" cy="622.90" r="2.45" fill="#000"/>
<circle cx="603.00" cy="633.00" r="2.45" fill="#000"/>
<circle cx="617.70" cy="629.90" r="2.45" fill="#000"/>
<circle cx="625.40" cy="626.00" r="2.45" fill="#000"/>
<circle cx="621.20" cy="651.00" r="2.45" fill="#000"/>
<circle cx="621.20" cy="658.00" r="2.45" fill="#000"/>
<circle cx="636.00" cy="639.30" r="2.45" fill="#000"/>
<circle cx="643.70" cy="641.60" r="2.45" fill="#000"/>
<circle cx="640.30" cy="641.40" r="2.45" fill="#000"/>
<circle cx="639.50" cy="647.30" r="2.45" fill="#000"/>
<circle cx="639.50" cy="651.70" r="2.45" fill="#000"/>
<circle cx="639.50" cy="656.80" r="2.45" fill="#000"/>
<circle cx="658.10" cy="628.30" r="2.45" fill="#000"/>
<circle cx="655.40" cy="644.80" r="2.45" fill="#000"/>
<circle cx="661.90" cy="644.80" r="2.45" fill="#000"/>
<circle cx="658.10" cy="641.50" r="2.45" fill="#000"/>
<line x1="565.90" y1="555.20" x2="600.90" y2="555.20" stroke="#000" stroke-width="1.1"/>
<line x1="579.70" y1="544.05" x2="579.70" y2="550.45" stroke="#000" stroke-width="1.6"/>
<line x1="576.93" y1="545.65" x2="582.47" y2="548.85" stroke="#000" stroke-width="1.6"/>
<line x1="576.93" y1="548.85" x2="582.47" y2="545.65" stroke="#000" stroke-width="1.6"/>
<line x1="587.10" y1="544.05" x2="587.10" y2="550.45" stroke="#000" stroke-width="1.6"/>
<line x1="584.33" y1="545.65" x2="589.87" y2="548.85" stroke="#000" stroke-width="1.6"/>
<line x1="584.33" y1="548.85" x2="589.87" y2="545.65" stroke="#000" stroke-width="1.6"/>
<line x1="605.10" y1="555.20" x2="621.90" y2="555.20" stroke="#000" stroke-width="1.1"/>
<line x1="613.00" y1="544.05" x2="613.00" y2="550.45" stroke="#000" stroke-width="1.6"/>
<line x1="610.23" y1="545.65" x2="615.77" y2="548.85" stroke="#000" stroke-width="1.6"/>
<line x1="610.23" y1="548.85" x2="615.77" y2="545.65" stroke="#000" stroke-width="1.6"/>
<line x1="602.80" y1="531.90" x2="640.20" y2="531.90" stroke="#000" stroke-width="1.1"/>
<line x1="617.50" y1="520.75" x2="617.50" y2="527.15" stroke="#000" stroke-width="1.6"/>
<line x1="614.73" y1="522.35" x2="620.27" y2="525.55" stroke="#000" stroke-width="1.6"/>
<line x1="614.73" y1="525.55" x2="620.27" y2="522.35" stroke="#000" stroke-width="1.6"/>
<line x1="624.90" y1="520.75" x2="624.90" y2="527.15" stroke="#000" stroke-width="1.6"/>
<line x1="622.13" y1="522.35" x2="627.67" y2="525.55" stroke="#000" stroke-width="1.6"/>
<line x1="622.13" y1="525.55" x2="627.67" y2="522.35" stroke="#000" stroke-width="1.6"/>
<line x1="602.80" y1="508.50" x2="658.80" y2="508.50" stroke="#000" stroke-width="1.1"/>
<line x1="630.60" y1="497.35" x2="630.60" y2="503.75" stroke="#000" stroke-width="1.6"/>
<line x1="627.83" y1="498.95" x2="633.37" y2="502.15" stroke="#000" stroke-width="1.6"/>
<line x1="627.83" y1="502.15" x2="633.37" y2="498.95" stroke="#000" stroke-width="1.6"/>
<text x="568.10" y="672.50" font-size="8.95" font-weight="bold" text-anchor="end" fill="#000" transform="rotate(-45 568.10 672.50)">ND</text>
<text x="586.53" y="672.50" font-size="8.95" font-weight="bold" text-anchor="end" fill="#000" transform="rotate(-45 586.53 672.50)">ND + &#945;-PCSK9 mAb 10 mg/kg</text>
<text x="604.96" y="672.50" font-size="8.95" font-weight="bold" text-anchor="end" fill="#000" transform="rotate(-45 604.96 672.50)">HFD</text>
<text x="623.39" y="672.50" font-size="8.95" font-weight="bold" text-anchor="end" fill="#000" transform="rotate(-45 623.39 672.50)">HFD + &#945;-PCSK9 mAb 3 mg/kg</text>
<text x="641.82" y="672.50" font-size="8.95" font-weight="bold" text-anchor="end" fill="#000" transform="rotate(-45 641.82 672.50)">HFD + &#945;-PCSK9 mAb10 mg/kg</text>
<text x="660.25" y="672.50" font-size="8.95" font-weight="bold" text-anchor="end" fill="#000" transform="rotate(-45 660.25 672.50)">HFD + Statin</text>
<text x="521.20" y="601.50" font-size="10.9" font-weight="bold" text-anchor="middle" fill="#000" transform="rotate(-90 521.20 601.50)" textLength="68.20" lengthAdjust="spacingAndGlyphs">TGF-<tspan font-weight="normal">&#946;</tspan>(pg/ml)</text>
<text x="9.20" y="796.40" font-size="12.2" font-weight="bold" text-anchor="start" fill="#000">I</text>
<line x1="92.20" y1="793.80" x2="92.20" y2="911.60" stroke="#000" stroke-width="1.3"/>
<line x1="91.60" y1="911.00" x2="209.20" y2="911.00" stroke="#000" stroke-width="1.3"/>
<line x1="87.60" y1="911.00" x2="92.20" y2="911.00" stroke="#000" stroke-width="1.2"/>
<text x="84.80" y="914.00" font-size="8.4" font-weight="bold" text-anchor="end" fill="#000">0</text>
<line x1="87.60" y1="887.68" x2="92.20" y2="887.68" stroke="#000" stroke-width="1.2"/>
<text x="84.80" y="890.68" font-size="8.4" font-weight="bold" text-anchor="end" fill="#000">20</text>
<line x1="87.60" y1="864.36" x2="92.20" y2="864.36" stroke="#000" stroke-width="1.2"/>
<text x="84.80" y="867.36" font-size="8.4" font-weight="bold" text-anchor="end" fill="#000">40</text>
<line x1="87.60" y1="841.04" x2="92.20" y2="841.04" stroke="#000" stroke-width="1.2"/>
<text x="84.80" y="844.04" font-size="8.4" font-weight="bold" text-anchor="end" fill="#000">60</text>
<line x1="87.60" y1="817.72" x2="92.20" y2="817.72" stroke="#000" stroke-width="1.2"/>
<text x="84.80" y="820.72" font-size="8.4" font-weight="bold" text-anchor="end" fill="#000">80</text>
<line x1="87.60" y1="794.40" x2="92.20" y2="794.40" stroke="#000" stroke-width="1.2"/>
<text x="84.80" y="797.40" font-size="8.4" font-weight="bold" text-anchor="end" fill="#000">100</text>
<line x1="104.50" y1="911.00" x2="104.50" y2="916.00" stroke="#000" stroke-width="1.2"/>
<line x1="122.93" y1="911.00" x2="122.93" y2="916.00" stroke="#000" stroke-width="1.2"/>
<line x1="141.36" y1="911.00" x2="141.36" y2="916.00" stroke="#000" stroke-width="1.2"/>
<line x1="159.79" y1="911.00" x2="159.79" y2="916.00" stroke="#000" stroke-width="1.2"/>
<line x1="178.22" y1="911.00" x2="178.22" y2="916.00" stroke="#000" stroke-width="1.2"/>
<line x1="196.65" y1="911.00" x2="196.65" y2="916.00" stroke="#000" stroke-width="1.2"/>
<rect x="99.20" y="908.75" width="10.6" height="2.25" fill="#6f6f6f" stroke="#000" stroke-width="1.45"/>
<rect x="117.63" y="909.22" width="10.6" height="1.78" fill="#cdcdcd" stroke="#000" stroke-width="1.45"/>
<rect x="136.06" y="863.98" width="10.6" height="47.02" fill="#bbbbbb" stroke="#000" stroke-width="1.45"/>
<rect x="154.49" y="887.76" width="10.6" height="23.24" fill="#e8e8e8" stroke="#000" stroke-width="1.45"/>
<rect x="172.92" y="890.10" width="10.6" height="20.90" fill="#a8a8a8" stroke="#000" stroke-width="1.45"/>
<rect x="191.35" y="893.59" width="10.6" height="17.41" fill="#d0d0d0" stroke="#000" stroke-width="1.45"/>
<line x1="104.50" y1="907.04" x2="104.50" y2="909.37" stroke="#333" stroke-width="0.8"/>
<line x1="101.80" y1="907.04" x2="107.20" y2="907.04" stroke="#333" stroke-width="0.85"/>
<line x1="101.80" y1="909.37" x2="107.20" y2="909.37" stroke="#333" stroke-width="0.85"/>
<line x1="122.93" y1="907.50" x2="122.93" y2="909.83" stroke="#333" stroke-width="0.8"/>
<line x1="120.23" y1="907.50" x2="125.63" y2="907.50" stroke="#333" stroke-width="0.85"/>
<line x1="120.23" y1="909.83" x2="125.63" y2="909.83" stroke="#333" stroke-width="0.85"/>
<line x1="141.36" y1="851.77" x2="141.36" y2="875.09" stroke="#333" stroke-width="0.8"/>
<line x1="138.66" y1="851.77" x2="144.06" y2="851.77" stroke="#333" stroke-width="0.85"/>
<line x1="138.66" y1="875.09" x2="144.06" y2="875.09" stroke="#333" stroke-width="0.85"/>
<line x1="159.79" y1="880.68" x2="159.79" y2="894.21" stroke="#333" stroke-width="0.8"/>
<line x1="157.09" y1="880.68" x2="162.49" y2="880.68" stroke="#333" stroke-width="0.85"/>
<line x1="157.09" y1="894.21" x2="162.49" y2="894.21" stroke="#333" stroke-width="0.85"/>
<line x1="178.22" y1="886.75" x2="178.22" y2="893.04" stroke="#333" stroke-width="0.8"/>
<line x1="175.52" y1="886.75" x2="180.92" y2="886.75" stroke="#333" stroke-width="0.85"/>
<line x1="175.52" y1="893.04" x2="180.92" y2="893.04" stroke="#333" stroke-width="0.85"/>
<line x1="196.65" y1="887.21" x2="196.65" y2="898.87" stroke="#333" stroke-width="0.8"/>
<line x1="193.95" y1="887.21" x2="199.35" y2="887.21" stroke="#333" stroke-width="0.85"/>
<line x1="193.95" y1="898.87" x2="199.35" y2="898.87" stroke="#333" stroke-width="0.85"/>
<circle cx="102.00" cy="905.80" r="2.45" fill="#000"/>
<circle cx="105.50" cy="905.40" r="2.45" fill="#000"/>
<circle cx="107.90" cy="908.70" r="2.45" fill="#000"/>
<circle cx="100.90" cy="908.70" r="2.45" fill="#000"/>
<circle cx="104.40" cy="908.50" r="2.45" fill="#000"/>
<circle cx="122.60" cy="903.50" r="2.45" fill="#000"/>
<circle cx="119.60" cy="908.70" r="2.45" fill="#000"/>
<circle cx="126.60" cy="909.30" r="2.45" fill="#000"/>
<circle cx="122.60" cy="908.90" r="2.45" fill="#000"/>
<circle cx="141.30" cy="799.60" r="2.45" fill="#000"/>
<circle cx="137.60" cy="857.50" r="2.45" fill="#000"/>
<circle cx="145.70" cy="856.10" r="2.45" fill="#000"/>
<circle cx="137.40" cy="877.30" r="2.45" fill="#000"/>
<circle cx="145.40" cy="874.80" r="2.45" fill="#000"/>
<circle cx="141.30" cy="888.80" r="2.45" fill="#000"/>
<circle cx="141.50" cy="883.20" r="2.45" fill="#000"/>
<circle cx="159.70" cy="869.70" r="2.45" fill="#000"/>
<circle cx="159.70" cy="877.00" r="2.45" fill="#000"/>
<circle cx="156.60" cy="890.70" r="2.45" fill="#000"/>
<circle cx="163.80" cy="892.70" r="2.45" fill="#000"/>
<circle cx="160.00" cy="904.20" r="2.45" fill="#000"/>
<circle cx="178.10" cy="874.80" r="2.45" fill="#000"/>
<circle cx="178.10" cy="882.70" r="2.45" fill="#000"/>
<circle cx="174.30" cy="890.70" r="2.45" fill="#000"/>
<circle cx="181.80" cy="890.70" r="2.45" fill="#000"/>
<circle cx="178.10" cy="892.40" r="2.45" fill="#000"/>
<circle cx="181.80" cy="895.80" r="2.45" fill="#000"/>
<circle cx="192.70" cy="876.20" r="2.45" fill="#000"/>
<circle cx="200.20" cy="875.00" r="2.45" fill="#000"/>
<circle cx="196.60" cy="896.50" r="2.45" fill="#000"/>
<circle cx="196.60" cy="901.20" r="2.45" fill="#000"/>
<circle cx="196.60" cy="910.00" r="2.45" fill="#000"/>
<line x1="104.40" y1="786.00" x2="139.40" y2="786.00" stroke="#000" stroke-width="1.1"/>
<line x1="114.50" y1="774.85" x2="114.50" y2="781.25" stroke="#000" stroke-width="1.6"/>
<line x1="111.73" y1="776.45" x2="117.27" y2="779.65" stroke="#000" stroke-width="1.6"/>
<line x1="111.73" y1="779.65" x2="117.27" y2="776.45" stroke="#000" stroke-width="1.6"/>
<line x1="121.90" y1="774.85" x2="121.90" y2="781.25" stroke="#000" stroke-width="1.6"/>
<line x1="119.13" y1="776.45" x2="124.67" y2="779.65" stroke="#000" stroke-width="1.6"/>
<line x1="119.13" y1="779.65" x2="124.67" y2="776.45" stroke="#000" stroke-width="1.6"/>
<line x1="129.30" y1="774.85" x2="129.30" y2="781.25" stroke="#000" stroke-width="1.6"/>
<line x1="126.53" y1="776.45" x2="132.07" y2="779.65" stroke="#000" stroke-width="1.6"/>
<line x1="126.53" y1="779.65" x2="132.07" y2="776.45" stroke="#000" stroke-width="1.6"/>
<line x1="143.60" y1="786.00" x2="178.70" y2="786.00" stroke="#000" stroke-width="1.1"/>
<line x1="161.10" y1="774.85" x2="161.10" y2="781.25" stroke="#000" stroke-width="1.6"/>
<line x1="158.33" y1="776.45" x2="163.87" y2="779.65" stroke="#000" stroke-width="1.6"/>
<line x1="158.33" y1="779.65" x2="163.87" y2="776.45" stroke="#000" stroke-width="1.6"/>
<line x1="141.00" y1="762.70" x2="196.70" y2="762.70" stroke="#000" stroke-width="1.1"/>
<line x1="168.60" y1="751.55" x2="168.60" y2="757.95" stroke="#000" stroke-width="1.6"/>
<line x1="165.83" y1="753.15" x2="171.37" y2="756.35" stroke="#000" stroke-width="1.6"/>
<line x1="165.83" y1="756.35" x2="171.37" y2="753.15" stroke="#000" stroke-width="1.6"/>
<text x="106.60" y="923.90" font-size="8.95" font-weight="bold" text-anchor="end" fill="#000" transform="rotate(-45 106.60 923.90)">ND</text>
<text x="125.03" y="923.90" font-size="8.95" font-weight="bold" text-anchor="end" fill="#000" transform="rotate(-45 125.03 923.90)">ND + &#945;-PCSK9 mAb 10 mg/kg</text>
<text x="143.46" y="923.90" font-size="8.95" font-weight="bold" text-anchor="end" fill="#000" transform="rotate(-45 143.46 923.90)">HFD</text>
<text x="161.89" y="923.90" font-size="8.95" font-weight="bold" text-anchor="end" fill="#000" transform="rotate(-45 161.89 923.90)">HFD + &#945;-PCSK9 mAb 3 mg/kg</text>
<text x="180.32" y="923.90" font-size="8.95" font-weight="bold" text-anchor="end" fill="#000" transform="rotate(-45 180.32 923.90)">HFD + &#945;-PCSK9 mAb10 mg/kg</text>
<text x="198.75" y="923.90" font-size="8.95" font-weight="bold" text-anchor="end" fill="#000" transform="rotate(-45 198.75 923.90)">HFD + Statin</text>
<text x="68.20" y="852.50" font-size="10.9" font-weight="bold" text-anchor="middle" fill="#000" transform="rotate(-90 68.20 852.50)" textLength="68.70" lengthAdjust="spacingAndGlyphs">Leptin(ng/ml)</text>
</svg>
</body></html>
